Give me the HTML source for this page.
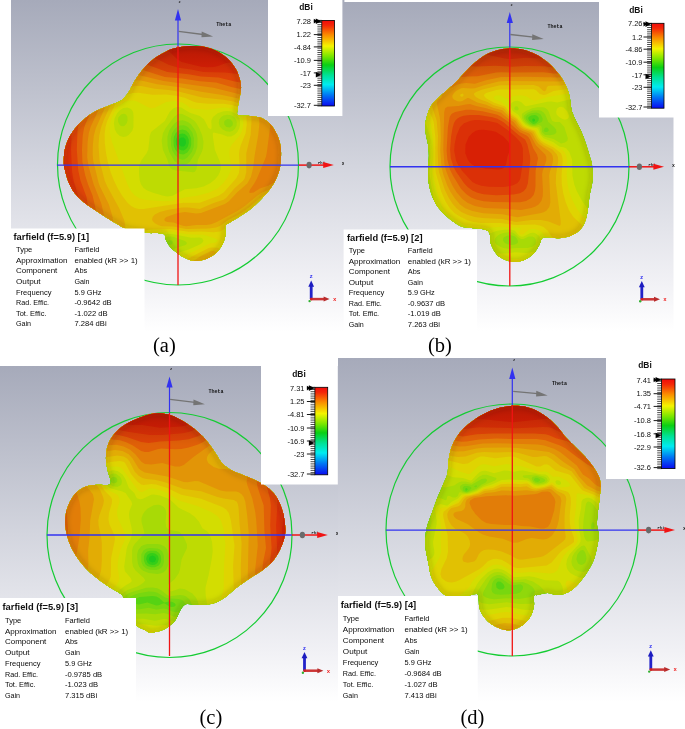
<!DOCTYPE html>
<html><head><meta charset="utf-8"><title>Farfield patterns</title>
<style>html,body{margin:0;padding:0;background:#fff}svg{display:block}text{font-family:"Liberation Sans",sans-serif}.cap{font-family:"Liberation Serif",serif;font-size:20.5px;fill:#000}.t{font-size:8.1px;fill:#0a0a0a}.tb{font-size:8.4px;font-weight:bold;fill:#111}.lg{font-size:7.5px;fill:#111;text-anchor:end}.lgt{font-size:8.4px;font-weight:bold;fill:#111;text-anchor:middle}.th{font-family:"Liberation Mono",monospace;font-size:5px;font-weight:bold;fill:#111}.ax2{font-family:"Liberation Mono",monospace;font-size:5.6px;font-weight:bold}.ax{font-family:"Liberation Mono",monospace;font-size:3.8px;font-weight:bold}</style></head><body>
<svg width="685" height="729" viewBox="0 0 685 729">
<defs>
<linearGradient id="bg" x1="0" y1="0" x2="0" y2="1"><stop offset="0" stop-color="#a6aaba"/><stop offset=".5" stop-color="#d3d5de"/><stop offset=".85" stop-color="#f1f1f5"/><stop offset="1" stop-color="#ffffff"/></linearGradient>
<linearGradient id="bar" x1="0" y1="0" x2="0" y2="1"><stop offset="0" stop-color="#f00a0a"/><stop offset=".06" stop-color="#f42808"/><stop offset=".17" stop-color="#fa8c00"/><stop offset=".30" stop-color="#f4f400"/><stop offset=".42" stop-color="#78e600"/><stop offset=".52" stop-color="#0ad014"/><stop offset=".64" stop-color="#00e296"/><stop offset=".75" stop-color="#00ecf0"/><stop offset=".87" stop-color="#0078f4"/><stop offset="1" stop-color="#0a0af0"/></linearGradient>
<filter id="blur3" x="-10%" y="-10%" width="120%" height="120%"><feGaussianBlur stdDeviation="2.5"/></filter>
<linearGradient id="topshade" x1="0" y1="0" x2="0" y2="1"><stop offset="0" stop-color="#400000" stop-opacity=".26"/><stop offset="1" stop-color="#500000" stop-opacity="0"/></linearGradient>
</defs>
<rect width="685" height="729" fill="#fff"/>
<rect x="11" y="0" width="333.4" height="332" fill="url(#bg)"/>
<g>
<circle cx="178" cy="164.5" r="120.5" fill="none" stroke="#14cc32" stroke-width="1.2"/>
<clipPath id="clipa"><path d="M190 46C194.1 45.8 197.8 45.9 202 46.6C206.2 47.3 211.3 48.5 215.5 50.4C219.7 52.3 223.7 55 227 58C230.3 61 233.3 64.8 235.5 68.5C237.7 72.2 239.1 76.5 240 80C240.9 83.5 241.2 85.8 241 89.3C240.8 92.8 239.6 97.2 239 100.7C238.4 104.2 237.5 107.8 237.4 110.2C237.3 112.6 236.2 114 238.3 115C240.4 116 245.9 115.5 249.7 116C253.5 116.5 257.5 116.4 261 117.8C264.5 119.2 267.9 121.5 270.6 124.4C273.3 127.3 275.5 131.3 277.2 135C278.9 138.7 280 142.5 280.6 146.3C281.2 150.1 281.1 153.8 281 157.6C280.9 161.4 280.6 165.2 279.7 169C278.8 172.8 277.1 176.8 275.3 180.4C273.5 184 271.4 187.3 268.7 190.8C266 194.3 262.4 198 259.2 201.2C256 204.4 253.2 207.1 249.7 209.8C246.2 212.5 241.8 215.2 238.3 217.4C234.8 219.6 231 221.6 228.8 223C226.7 224.4 226 223.8 225.4 225.9C224.8 228 225.9 232.2 225.4 235.4C224.9 238.6 223.8 241.9 222.2 244.9C220.5 247.9 218.2 251.1 215.5 253.4C212.8 255.8 209.5 257.7 206 259C202.5 260.3 198.2 261.2 194.7 261C191.2 260.8 188 259.3 185.2 258C182.3 256.7 180.1 255.3 177.6 253.4C175.1 251.5 171.9 249 170 246.8C168.1 244.6 167.1 242.1 166 240C164.9 237.9 166.2 235.2 163.5 234C160.8 232.8 154.4 233.5 150 233C145.6 232.5 141.2 231.8 137 231C132.8 230.2 127.5 229 124.5 228C121.5 227 121.6 226.6 118.8 225C116 223.4 111.2 220.7 107.4 218.3C103.6 215.9 99.8 213.2 96 210.7C92.2 208.1 88.2 205.8 84.7 203C81.2 200.2 77.7 197.1 75 193.6C72.3 190.1 70.2 186.1 68.5 182C66.8 177.9 65.5 172.4 64.7 169C63.9 165.6 63.8 164.6 63.8 161.4C63.8 158.2 63.9 153.8 64.7 150C65.5 146.2 66.8 142.3 68.5 138.7C70.2 135.1 72.5 131.5 75.2 128.2C77.9 124.9 81.2 121.6 84.7 118.7C88.2 115.8 91.9 113.2 96 111C100.1 108.8 105.2 107.2 109.3 105.5C113.4 103.8 117.7 102.6 120.7 100.7C123.7 98.8 125.5 96.5 127.4 94C129.3 91.5 130.4 88.5 132.1 85.5C133.8 82.5 135.6 79.2 137.8 76C140 72.8 142.6 69.6 145.4 66.6C148.2 63.6 151.4 60.5 154.9 58C158.4 55.5 162.5 53.1 166.3 51.4C170.1 49.7 173.7 48.5 177.6 47.6C181.5 46.7 185.9 46.2 190 46Z"/></clipPath>
<g clip-path="url(#clipa)">
<rect x="59.8" y="42" width="225.2" height="223" fill="#11c125"/>
<path fill="#1fc81e" fill-rule="evenodd" d="M59.8 42L286.1 42L286.1 265.8L59.8 265.8Z"/>
<path fill="#34ce18" fill-rule="evenodd" d="M59.8 42L286.1 42L286.1 265.8L59.8 265.8ZM179.8 138.2L178.4 140.8L179 144.5L181.1 146.5L183.6 146.5L184.8 145.6L186.1 143.2L185.6 139.5L183.6 137.5L181.1 137.5Z"/>
<path fill="#56d313" fill-rule="evenodd" d="M59.8 42L286.1 42L286.1 265.8L59.8 265.8ZM179.8 134.1L177.8 135.8L176.4 138.2L175.8 140.8L176.1 144.5L177.1 147L178.6 148.9L181.1 150.3L183.6 150.4L186.1 149L187.7 147L188.8 143.2L188.7 139.5L187.3 136.3L184.8 134.1L182.3 133.5Z"/>
<path fill="#78d70f" fill-rule="evenodd" d="M59.8 42L286.1 42L286.1 265.8L59.8 265.8ZM178.6 130.6L175.7 133.2L173.9 137L173.5 140.8L173.8 145.8L175.2 149.5L177.3 152.3L179.8 154.1L183.5 154.6L187.3 152.5L190.2 148.2L191.2 144.5L191.1 138.2L188.9 133.2L186.1 130.6L182.3 129.6Z"/>
<path fill="#90d80b" fill-rule="evenodd" d="M59.8 42L286.1 42L286.1 265.8L59.8 265.8ZM179.8 125.6L177.3 126.8L174.8 128.9L172 133.2L170.9 138.2L171.1 145.8L172.3 150.5L174.8 154.8L178.6 158.4L182.3 159.8L184.8 159.2L187.3 157.6L191.8 152L193.7 147L193.9 138.2L192.3 132.5L188.6 127.7L186.1 126.1L183.6 125.3Z"/>
<path fill="#a8da06" fill-rule="evenodd" d="M59.8 42L286.1 42L286.1 265.8L59.8 265.8ZM179.8 120.4L177.3 121.4L174.8 123.3L171.5 127L169.1 130.8L167.4 137L167.6 145.8L169.2 152L174.3 160.8L178.6 164L183.6 164.8L187.3 163.7L189.8 161.8L195.2 153.2L197.3 147L197.5 138.2L196.9 134.5L195.5 130.8L191.1 124.5L188.6 122.5L184.8 120.7L182.3 120.2ZM227.3 119.1L224.7 120.8L224.2 122L224.3 124.5L226.5 127L229.8 127.5L232.3 125.8L232.8 124.5L232.7 122L230.6 119.5ZM168.6 240.4L167 242L166.8 243.2L167.3 244.5L169.8 245.1L171.4 244.5L172.7 243.2L172.8 242L172.1 240.8L169.8 239.9Z"/>
<path fill="#bedb03" fill-rule="evenodd" d="M59.8 42L286.1 42L286.1 218.4L277.3 217.7L273.6 218.5L269.8 220.5L266.1 223.7L262.4 228.2L260.6 232L260.2 235.8L261.7 240.8L265.2 245.8L273.6 253.4L286.1 262.6L286.1 265.8L59.8 265.8ZM121.1 114.4L118.6 117.3L118 119.5L118.2 122L119.8 125.1L121 126L123.5 126.2L124.8 125.6L126.7 123.2L127.5 120.8L127.4 117L126 114.6L124.8 113.9L123.5 113.7ZM177.3 114.4L174.8 116.3L172.3 119.2L165.5 128.2L162.9 133.2L161.7 140.8L162.8 149.5L167.3 159.5L169.2 165.8L170.8 168.2L172.3 169.4L176.1 170.6L193.6 172.3L194.8 171.8L196.4 169.5L198 159.5L201.8 152L203 148.2L203.5 142L202.3 135.8L199.3 128.2L196.4 123.2L194.2 120.8L189.8 117.7L182.3 114L179.8 113.7ZM223.6 115.5L221.2 117L219.3 119.5L218.8 123.2L219.8 126.4L222.3 129.2L226.1 131.3L229.8 131.8L232.3 131.1L234.8 129L236.5 125.8L236.8 122L236 119.5L234.1 117L231.1 115.3L227.3 114.7ZM167.3 236.8L162.1 239.5L159.9 242L158.7 244.5L158.5 247L159.5 249.5L161.1 251.1L163 252L166.1 252.4L169.8 251.6L177.3 247.6L184.8 245.3L186.2 244.5L186.9 243.2L186.3 242L184.8 241.1L173.9 237L171.1 236.5Z"/>
<path fill="#d3dd01" fill-rule="evenodd" d="M59.8 42L286.1 42L286.1 208.2L274.8 207.5L271.1 208.2L267.3 210.1L247.5 228.2L244.8 232L243.7 235.8L244.8 240.8L248.2 245.8L255.3 253.2L268.6 265.8L59.8 265.8ZM123.5 108L119.8 110.2L117.1 113.2L114.7 118.2L113.9 123.2L114.8 129.4L116.9 133.2L119.8 136L123.5 137L126.1 136.5L128.6 135.1L132.3 130.8L133.4 127L133.5 115.8L133.1 112L131.1 109L127.3 107.4ZM173.6 108.2L169.6 112L164.8 121.1L151.1 132L149.8 135.8L148.3 149.5L146.5 153.2L141.1 160.8L139.6 164.5L139 168.2L139.1 174.5L139.8 180.8L141.1 184.6L143.6 188L147.3 190.5L152.3 192.6L162.3 195.6L167.3 196.5L172.6 195.8L184.8 189.2L196.1 188.2L203.6 186.4L210.1 183.2L214.9 179.5L218 175.8L219.8 172.3L220.6 169.5L220.8 165.8L219.8 161.4L214.8 149.8L212.9 137L212.8 133.2L213.6 132.5L214.8 132.7L222.2 134.5L227.3 136.5L231.1 136.4L234.8 134.5L237.3 131.9L239.3 128.2L240.1 124.5L240 120.8L239.3 118.2L236.1 114L231.1 111.6L227.3 111.1L223.6 111.3L217.7 113.2L213 117L211.3 120.8L211.7 127L211.1 129.5L208.5 128.1L204.1 119.5L199.8 115.9L189.8 112.7L181.1 107.4L177.3 107.1ZM166.1 234.3L161.4 235.8L156.6 238.2L153.7 240.8L151.3 244.5L150.5 248.2L151.1 252L153.6 255.7L157.3 258.1L162.3 259L168.6 257.8L178.6 252.4L188.5 249.5L199.8 244.5L202.3 242.7L203.4 240.8L202.3 238.6L199.8 237.6L191.1 237.7L173.6 234.2L169.8 233.9Z"/>
<path fill="#dfd401" fill-rule="evenodd" d="M59.8 42L286.1 42L286.1 201.4L272.3 201L267.3 202.2L252.3 215.7L234.8 227.9L230.4 233.2L227.5 238.2L227.5 239.5L229.3 242L242.3 253.1L255 265.8L161.7 265.8L169.8 263.4L182.3 256.3L193.6 251.6L209.8 243.5L216.1 242.4L217.8 240.8L217.3 239.5L214.8 238.2L203.6 234.7L187.3 234.3L174.8 231.9L169.8 231.6L158.6 233.1L151.1 235.7L145.8 239.5L142.8 244.5L142 248.2L142.1 252L144.4 258.2L146.4 260.8L149.8 263.5L153.6 265.1L156.6 265.8L59.8 265.8ZM128.6 100.6L124.8 101.7L121 103.9L116 109.4L112.6 115.8L110.7 120.8L109.8 125.8L109.7 130.8L110.3 135.8L112 142L127.5 184.5L130.6 190.8L134.8 195.5L139.8 198.5L146.1 200L163.6 201.3L171.1 200.9L184.8 197.4L197.3 195.7L208.6 192.7L217.3 188.7L223.2 183.2L227.9 177L230.5 170.8L230.8 165.8L229.3 153.2L229.8 148.2L232 144.5L239.5 135.8L241.6 132L242.8 128.2L243.4 123.2L242.9 118.2L241.3 114.5L239.1 112L233.6 108.9L226.1 107.6L221.1 107.7L207.3 109.8L192.3 108.6L189.8 107.7L185.9 104.5L182.3 102.5L174.8 101L166.1 102L154.8 107.8L151.1 108.2L148.6 107.5L137.3 101.4L133.6 100.5Z"/>
<path fill="#e1c103" fill-rule="evenodd" d="M59.8 42L286.1 42L286.1 195.6L269.8 196.6L266.1 197.4L248.6 212.9L239.8 218.4L231.1 222.8L223.6 229.5L219.8 231.5L213.6 232.2L201.1 231.4L188.6 231.8L169.8 229.1L149.8 229.6L142.3 231.2L138.6 233.7L135.9 237L133.8 242L132.9 247L133 252L134.1 257L136.2 262L138.9 265.8L59.8 265.8ZM132.3 93L127.3 94.4L122.3 97.1L118.5 100.2L115.1 104.5L107.3 120.8L105.5 127L104.6 134.5L104.8 143.2L106.1 153.6L108.1 163.2L111 173.2L114 180.8L117.7 188.2L122.3 195.9L127.3 202.5L131.1 205.9L134.8 208L138.6 209L143.6 208.9L183.6 202.8L199.8 202.8L218.6 195.7L223.6 192.4L236.3 178.2L238.9 173.2L239.6 167L239 154.5L239.3 150.8L240.6 145.8L245.6 133.2L246.8 124.5L246.5 117L245 113.2L243.2 110.8L238.6 107.2L232.3 105.1L223.6 103.8L208.6 103.8L197.3 102.8L193.6 101.8L184.8 97.8L176.1 95.7L166.1 94.5L152.3 94.8L138.6 92.7ZM208.2 248.2L211.1 247.4L214.8 247.4L221.1 248.5L226.1 250.3L234.1 255.8L244.2 265.8L176.9 265.8L188.6 258.2Z"/>
<path fill="#e2ac05" fill-rule="evenodd" d="M59.8 42L286.1 42L286.1 190.2L267.3 193.7L263.6 195.1L244.9 210.8L237.3 215.4L228.8 219.5L219.8 225.9L216.1 227.4L208.6 228.5L186.1 229.1L173.6 226.5L162.3 226.2L158.6 225.2L154.8 223.2L152.5 220.8L152.1 219.5L152.6 217L154.9 214.5L159.8 211.9L167.3 209.9L182.3 207.5L188.6 207.5L199.8 208.9L213.6 203L223.6 199.8L226.1 197.9L234.8 187.9L243.1 180.8L244.8 178.2L246.3 172L246.3 153.2L250.7 134.5L251.5 120.8L251.3 117L249.6 112L245.5 107L239.8 103.5L233.6 101.5L223.6 99.7L202.3 97.4L178.6 91.4L168.6 90L154.8 88.7L141.1 86.1L134.8 86.1L128.6 87.6L123.5 89.9L118.9 93.2L114.8 97.7L112.1 102L104 119.5L101.2 127L99.2 135.8L98.5 145.8L99.6 160.8L104.8 180.9L107.3 186.6L119.2 208.2L124.4 220.8L125.2 227L123.7 243.2L123.8 250.8L125.1 258.2L128 265.8L59.8 265.8ZM201.3 255.8L211.1 251.1L213.6 251.1L219.8 253.4L227 258.2L234.6 265.8L186.4 265.8Z"/>
<path fill="#e29507" fill-rule="evenodd" d="M59.8 42L286.1 42L286.1 184.2L262.3 192.2L257.2 195.8L244.8 205.9L237.8 210.8L216.7 222L211.1 224.2L206.1 225.1L196.1 225.1L186.1 226.2L182.9 225.8L173.6 222.4L167.3 221.9L164.8 220.9L164.4 219.5L164.9 218.2L166.4 217L177 213.2L184.8 212.1L196.1 213.4L201.1 213L224.8 203.9L228.6 201.5L237.3 192.3L247.3 183.4L250.9 177L253.1 168.2L254.6 155.8L258.3 134.5L259.4 123.2L258.8 118.2L256.4 112L251.6 105.8L246.1 101.6L238.6 98.6L222.3 95L199.8 91.4L179.8 87.3L157.3 84.2L141.1 80.6L133.6 80.5L127.3 81.9L122.3 84.1L117.3 87.7L113.2 92L109.1 98.2L95.8 128.2L93.8 135.8L92.8 145.8L92.7 154.5L93.2 160.8L98.5 182.6L99.8 186.2L108.9 204.5L112.6 217L114.2 228.2L115 252L116.2 259.5L118.1 265.8L59.8 265.8ZM210 257L213.6 257.1L216.2 258.2L219.9 260.8L225.1 265.8L195.8 265.8L204.8 259.1Z"/>
<path fill="#e27d08" fill-rule="evenodd" d="M59.8 42L286.1 42L286.1 176L268.6 185.4L259.8 188.5L253.6 192.4L249.8 193L249.2 192L250.1 189.5L254.4 183.2L257.1 178.2L265.9 157L266.9 152L270.1 127L269.3 119.5L265.9 112L259.8 104.5L253.3 99.5L243.6 95.2L213.6 87.8L163.6 81L138.6 75L131.1 75.1L123.5 77.1L118.5 79.7L113.5 83.6L109.4 88.2L106.2 93.2L90.6 127L88.8 133.2L87.6 142L87.2 157L88.5 166.3L93.7 184.5L101.2 203.2L103.9 214.5L105.2 225.8L106.3 252L108.7 265.8L59.8 265.8Z"/>
<path fill="#e06008" fill-rule="evenodd" d="M59.8 42L286.1 42L286.1 155.3L284.3 153.2L283.9 150.8L284.7 137L284.2 128.2L282.8 122L281 117L277.5 110.8L272.3 104.5L266.1 99.2L258.4 94.5L248.6 90.7L232.3 87.2L216.1 82.4L199.8 81.2L182.3 78.6L164.8 76.9L143.6 70.3L138.6 69.2L133.6 68.9L128.6 69.3L119.8 72L114.8 74.9L109.8 79.1L106 83.2L101.9 89.5L85.7 123.2L84 128.2L82.7 135.8L82 149.5L82.4 162L85.3 175.8L88.1 184.5L92.6 195.8L95.5 208.2L96.9 222L97.7 252L99.6 265.8L59.8 265.8Z"/>
<path fill="#de4308" fill-rule="evenodd" d="M59.8 42L286.1 42L286.1 100.8L279.2 95.8L271.1 91L263.6 87.7L254.8 85L234.8 81.4L218.6 77.5L201.1 76.5L188.6 74.3L167.3 72L146.1 64.3L139.8 62.7L132.3 62.2L124.8 63.2L117.3 65.8L111 69.6L103.1 77L96.2 87L80.5 119.5L78.6 124.5L77.5 130.8L76.8 149.5L78.3 170.8L80.5 180.8L86.5 197L88.4 208.2L89 220.8L89 249.5L90.5 265.8L59.8 265.8Z"/>
<path fill="#db3007" fill-rule="evenodd" d="M59.8 42L286.1 42L286 84.3L271.1 79.2L257.3 76.2L224.8 72.4L203.6 72L189.8 69.2L178.6 67.7L168.6 64.8L158.6 59.7L152.3 57.3L139.8 54.5L131.1 54.3L122.3 56L113.5 59.6L106 64.5L97.3 73.3L89.3 85.8L75.6 114.5L73 122L71.8 128.2L71 149.5L72.1 172L73.6 180.8L79.3 199.5L80.6 209.5L80.3 249.5L81.3 265.8L59.8 265.8Z"/>
<path fill="#d82005" fill-rule="evenodd" d="M59.8 42L286.1 42L286.1 68.2L262.3 64.6L232.3 62.5L226.1 63L217.3 66.3L213.6 67.1L207.3 67.3L201.1 66.7L181.7 62L177.6 59.5L169.8 51.9L162.3 47.9L153.5 45.5L143.6 44.4L132.3 44.9L121.1 47.4L111 51.8L101 58.8L96 63.6L91 69.5L83.1 82L71.3 107L68.5 114.5L66.4 122L65.1 133.2L64.1 160.8L65.8 178.2L70.7 199.5L72 209.5L72.2 220.7L71.4 250.8L72 265.8L59.8 265.8Z"/>
<path d="M190 46C194.1 45.8 197.8 45.9 202 46.6C206.2 47.3 211.3 48.5 215.5 50.4C219.7 52.3 223.7 55 227 58C230.3 61 233.3 64.8 235.5 68.5C237.7 72.2 239.1 76.5 240 80C240.9 83.5 241.2 85.8 241 89.3C240.8 92.8 239.6 97.2 239 100.7C238.4 104.2 237.5 107.8 237.4 110.2C237.3 112.6 236.2 114 238.3 115C240.4 116 245.9 115.5 249.7 116C253.5 116.5 257.5 116.4 261 117.8C264.5 119.2 267.9 121.5 270.6 124.4C273.3 127.3 275.5 131.3 277.2 135C278.9 138.7 280 142.5 280.6 146.3C281.2 150.1 281.1 153.8 281 157.6C280.9 161.4 280.6 165.2 279.7 169C278.8 172.8 277.1 176.8 275.3 180.4C273.5 184 271.4 187.3 268.7 190.8C266 194.3 262.4 198 259.2 201.2C256 204.4 253.2 207.1 249.7 209.8C246.2 212.5 241.8 215.2 238.3 217.4C234.8 219.6 231 221.6 228.8 223C226.7 224.4 226 223.8 225.4 225.9C224.8 228 225.9 232.2 225.4 235.4C224.9 238.6 223.8 241.9 222.2 244.9C220.5 247.9 218.2 251.1 215.5 253.4C212.8 255.8 209.5 257.7 206 259C202.5 260.3 198.2 261.2 194.7 261C191.2 260.8 188 259.3 185.2 258C182.3 256.7 180.1 255.3 177.6 253.4C175.1 251.5 171.9 249 170 246.8C168.1 244.6 167.1 242.1 166 240C164.9 237.9 166.2 235.2 163.5 234C160.8 232.8 154.4 233.5 150 233C145.6 232.5 141.2 231.8 137 231C132.8 230.2 127.5 229 124.5 228C121.5 227 121.6 226.6 118.8 225C116 223.4 111.2 220.7 107.4 218.3C103.6 215.9 99.8 213.2 96 210.7C92.2 208.1 88.2 205.8 84.7 203C81.2 200.2 77.7 197.1 75 193.6C72.3 190.1 70.2 186.1 68.5 182C66.8 177.9 65.5 172.4 64.7 169C63.9 165.6 63.8 164.6 63.8 161.4C63.8 158.2 63.9 153.8 64.7 150C65.5 146.2 66.8 142.3 68.5 138.7C70.2 135.1 72.5 131.5 75.2 128.2C77.9 124.9 81.2 121.6 84.7 118.7C88.2 115.8 91.9 113.2 96 111C100.1 108.8 105.2 107.2 109.3 105.5C113.4 103.8 117.7 102.6 120.7 100.7C123.7 98.8 125.5 96.5 127.4 94C129.3 91.5 130.4 88.5 132.1 85.5C133.8 82.5 135.6 79.2 137.8 76C140 72.8 142.6 69.6 145.4 66.6C148.2 63.6 151.4 60.5 154.9 58C158.4 55.5 162.5 53.1 166.3 51.4C170.1 49.7 173.7 48.5 177.6 47.6C181.5 46.7 185.9 46.2 190 46Z" fill="none" stroke="#3a2000" stroke-opacity=".14" stroke-width="6" filter="url(#blur3)"/>
<rect x="59.8" y="42" width="225.2" height="35.7" fill="url(#topshade)"/>
</g>
<path d="M178 20V46" stroke="#3232f0" stroke-width="1.2" fill="none"/>
<path d="M178 9L174.9 20.5L181.1 20.5Z" fill="#3232f0"/>
<path d="M178 46V285" stroke="#f01414" stroke-width="1.3" fill="none"/>
<path d="M57 165.1H298.8" stroke="#3232f0" stroke-width="1.4" fill="none"/>
<path d="M298.8 165.1H324.8" stroke="#f01414" stroke-width="1.5" fill="none"/>
<ellipse cx="309.1" cy="165.1" rx="2.6" ry="3.3" fill="#6a6a6a"/>
<text class="ax" x="318.1" y="163.8" fill="#222">Phi</text>
<path d="M333.8 165.1L323.2 162.1L323.2 168.1Z" fill="#f01414"/>
<text class="ax" x="341.8" y="164.9" fill="#222" style="font-size:4.8px">x</text>
<text class="ax" x="178.6" y="2.5" fill="#222">z</text>
<path d="M178.6 31.3L203.1 34.5" stroke="#747474" stroke-width="1.3" fill="none"/>
<path d="M213.1 36.4L201.7 31.5L201.5 37.3Z" fill="#747474"/>
<text class="th" x="216.3" y="25.6">Theta</text>
<path d="M311.2 299.1V285.4" stroke="#2222c8" stroke-width="2.8" fill="none"/>
<path d="M311.2 280.4L308.3 286.7L314.1 286.7Z" fill="#1c1cc0"/>
<path d="M310.7 299.1H324.6" stroke="#cc3434" stroke-width="2.5" fill="none"/>
<path d="M329.6 299.1L323.6 296.6L323.6 301.6Z" fill="#b82c2c"/>
<circle cx="309.6" cy="301.1" r="1.2" fill="#30b030"/>
<circle cx="311.2" cy="299.1" r="1.3" fill="#d02020"/>
<text class="ax2" x="309.5" y="278.2" fill="#3030f0">z</text>
<text class="ax2" x="332.9" y="300.9" fill="#f02020">x</text>
</g>
<rect x="268" y="-1" width="74.4" height="117" fill="#fff"/>
<text class="lgt" x="306" y="9.6">dBi</text>
<rect x="321.8" y="20.4" width="12.7" height="85.6" fill="url(#bar)" stroke="#000" stroke-width=".8"/>
<path d="M317.4 20.4H321.8M317.4 22.5H321.8M317.4 24.7H321.8M317.4 26.8H321.8M317.4 29H321.8M317.4 31.1H321.8M317.4 33.2H321.8M317.4 35.4H321.8M317.4 37.5H321.8M317.4 39.7H321.8M317.4 41.8H321.8M317.4 43.9H321.8M317.4 46.1H321.8M317.4 48.2H321.8M317.4 50.4H321.8M317.4 52.5H321.8M317.4 54.6H321.8M317.4 56.8H321.8M317.4 58.9H321.8M317.4 61.1H321.8M317.4 63.2H321.8M317.4 65.3H321.8M317.4 67.5H321.8M317.4 69.6H321.8M317.4 71.8H321.8M317.4 73.9H321.8M317.4 76H321.8M317.4 78.2H321.8M317.4 80.3H321.8M317.4 82.5H321.8M317.4 84.6H321.8M317.4 86.7H321.8M317.4 88.9H321.8M317.4 91H321.8M317.4 93.2H321.8M317.4 95.3H321.8M317.4 97.4H321.8M317.4 99.6H321.8M317.4 101.7H321.8M317.4 103.9H321.8M317.4 106H321.8" stroke="#000" stroke-width=".7" fill="none"/>
<text class="lg" x="311" y="23.7">7.28</text>
<text class="lg" x="311" y="37.3">1.22</text>
<text class="lg" x="311" y="49.6">-4.84</text>
<text class="lg" x="311" y="63.1">-10.9</text>
<text class="lg" x="311" y="75.6">-17</text>
<text class="lg" x="311" y="88">-23</text>
<text class="lg" x="311" y="108">-32.7</text>
<path d="M313.8 21H321.8M313.8 34.6H321.8M313.8 46.9H321.8M313.8 60.4H321.8M313.8 72.9H321.8M313.8 85.3H321.8M313.8 105.3H321.8" stroke="#000" stroke-width=".9" fill="none"/>
<path d="M321.3 21.2L315.8 18.4L315.8 24Z" fill="#000"/>
<path d="M321.3 74.8L315.8 72L315.8 77.6Z" fill="#000"/>
<path d="M317.8 21.2L313.8 18.8L313.8 23.6Z" fill="#000"/>
<rect x="11" y="228.5" width="133.5" height="103.5" fill="#fff"/>
<text class="tb" x="13.5" y="240" textLength="75.5" lengthAdjust="spacingAndGlyphs">farfield (f=5.9) [1]</text>
<text class="t" x="16" y="252.2" textLength="16.3" lengthAdjust="spacingAndGlyphs">Type</text>
<text class="t" x="74.5" y="252.2" textLength="24.9" lengthAdjust="spacingAndGlyphs">Farfield</text>
<text class="t" x="16" y="262.8" textLength="51.5" lengthAdjust="spacingAndGlyphs">Approximation</text>
<text class="t" x="74.5" y="262.8" textLength="63.2" lengthAdjust="spacingAndGlyphs">enabled (kR &gt;&gt; 1)</text>
<text class="t" x="16" y="273.3" textLength="41.3" lengthAdjust="spacingAndGlyphs">Component</text>
<text class="t" x="74.5" y="273.3" textLength="12.7" lengthAdjust="spacingAndGlyphs">Abs</text>
<text class="t" x="16" y="283.9" textLength="24.5" lengthAdjust="spacingAndGlyphs">Output</text>
<text class="t" x="74.5" y="283.9" textLength="15.1" lengthAdjust="spacingAndGlyphs">Gain</text>
<text class="t" x="16" y="294.5" textLength="35.6" lengthAdjust="spacingAndGlyphs">Frequency</text>
<text class="t" x="74.5" y="294.5" textLength="27" lengthAdjust="spacingAndGlyphs">5.9 GHz</text>
<text class="t" x="16" y="305.1" textLength="33.1" lengthAdjust="spacingAndGlyphs">Rad. Effic.</text>
<text class="t" x="74.5" y="305.1" textLength="37.2" lengthAdjust="spacingAndGlyphs">-0.9642 dB</text>
<text class="t" x="16" y="315.6" textLength="30.5" lengthAdjust="spacingAndGlyphs">Tot. Effic.</text>
<text class="t" x="74.5" y="315.6" textLength="33.1" lengthAdjust="spacingAndGlyphs">-1.022 dB</text>
<text class="t" x="16" y="326.2" textLength="15.1" lengthAdjust="spacingAndGlyphs">Gain</text>
<text class="t" x="74.5" y="326.2" textLength="32.1" lengthAdjust="spacingAndGlyphs">7.284 dBi</text>
<rect x="344" y="2" width="329.5" height="329" fill="url(#bg)"/>
<g>
<circle cx="509.5" cy="166.5" r="119.5" fill="none" stroke="#14cc32" stroke-width="1.2"/>
<clipPath id="clipb"><path d="M509 48.5C513.3 48.4 517.9 48.5 522.3 49.5C526.7 50.5 531.4 52.2 535.5 54.2C539.6 56.2 543.5 58.9 547 61.8C550.5 64.6 553.6 68 556.4 71.3C559.2 74.6 562 78.1 564 81.7C566 85.3 567.6 89.5 568.7 93C569.8 96.5 570.1 99.7 570.6 102.6C571.1 105.5 570.8 107.3 571.6 110.2C572.4 113.1 573.8 116.2 575.4 119.7C577 123.2 579.3 127 581 131C582.7 134.9 584.4 139.3 585.8 143.4C587.2 147.5 588.6 152.1 589.6 155.7C590.6 159.3 591.5 160.9 592 165C592.5 169.1 592.9 175.3 592.5 180.4C592.1 185.5 590.4 190.4 589.6 195.5C588.8 200.6 588.5 206.3 587.7 210.7C586.9 215.1 586.3 218.7 584.9 222C583.5 225.3 581.7 228.2 579.2 230.6C576.7 233 573.2 235 569.7 236.3C566.2 237.6 561.8 238 558.3 238.2C554.8 238.4 551.5 237.3 548.8 237.3C546.1 237.3 543.8 236.9 542.2 238.2C540.6 239.5 540.7 242.4 539.3 244.9C537.9 247.4 536.1 250.9 533.6 253.4C531.1 255.9 527.7 258.6 524.2 260C520.7 261.4 516.6 262.3 512.8 262C509 261.7 504.3 259.6 501.4 258C498.5 256.4 497.1 255 495.3 252.5C493.5 250 491.6 246.2 490.6 243C489.7 239.8 490.6 235.7 489.6 233.5C488.7 231.3 488.2 230.6 484.9 229.7C481.6 228.8 473.8 228.4 469.7 227.8C465.6 227.2 463.7 227.5 460.2 225.9C456.7 224.3 452.3 221.2 448.8 218.3C445.3 215.5 442 212.3 439.3 208.8C436.6 205.3 434.4 201.5 432.7 197.4C431 193.3 429.7 188.7 428.9 184C428.1 179.3 428 173.7 428 169C428 164.3 428.9 159.8 428.9 155.7C428.9 151.6 428.5 147.9 428 144.4C427.5 140.9 426.5 138.1 426 134.9C425.5 131.7 424.9 128.6 425.1 125.4C425.3 122.2 426.1 119.1 427 115.9C427.9 112.7 429.1 109.2 430.8 106.4C432.5 103.6 434.7 101.5 437.4 98.8C440.1 96.1 443.7 93.1 446.9 90.3C450.1 87.5 453.5 84.5 456.4 81.7C459.2 78.9 461.1 76.2 464 73.2C466.9 70.2 470 66.7 473.5 63.7C477 60.7 481.1 57.4 484.9 55.2C488.7 53 492.3 51.5 496.3 50.4C500.3 49.3 504.7 48.6 509 48.5Z"/></clipPath>
<g clip-path="url(#clipb)">
<rect x="421.1" y="44.5" width="175.4" height="221.5" fill="#11c125"/>
<path fill="#1fc81e" fill-rule="evenodd" d="M421.1 44.5L597.4 44.5L597.4 267L421.1 267Z"/>
<path fill="#34ce18" fill-rule="evenodd" d="M421.1 44.5L597.4 44.5L597.4 267L421.1 267Z"/>
<path fill="#56d313" fill-rule="evenodd" d="M421.1 44.5L597.4 44.5L597.4 267L421.1 267ZM532.4 119.1L532.4 120.9L533.6 121.7L534.9 121L534.9 119.3L533.6 118.6Z"/>
<path fill="#78d70f" fill-rule="evenodd" d="M421.1 44.5L597.4 44.5L597.4 267L425.9 267L424.1 255.8L421.1 244.2ZM531.1 115.5L528.7 117L528.2 118.2L529.1 120.8L532.4 123.6L533.6 124L536 123.2L538.5 120.8L538.8 118.2L538.2 117L536.8 115.8L534.9 115.1Z"/>
<path fill="#90d80b" fill-rule="evenodd" d="M421.1 44.5L597.4 44.5L597.4 267L437 267L435.6 258.2L433.2 249.5L421.1 220.5ZM531.1 113.2L527.4 114.9L525.5 117L526 119.5L529.4 123.2L532.4 124.8L534.9 125L541.6 122L542.5 120.8L542.6 118.2L540.6 114.5L538.6 113.2L536.1 112.6ZM544.9 128L543.7 130.8L544.9 131.9L547.2 132L548.7 130.8L548.7 129.5L547.4 127.8L546.1 127.4Z"/>
<path fill="#a8da06" fill-rule="evenodd" d="M421.1 44.5L597.4 44.5L597.4 267L449.1 267L448 257L445.7 249.5L441.8 242L428.6 221.2L425.3 213.2L423.5 205.8L422.3 173.2L424 159.5L424.1 149.5L423.5 140.8L421.1 134.5ZM507.4 235.7L504.3 237L503.2 238.2L503.1 240.8L504.9 242.9L507.4 244.2L511.1 244.9L514.9 244.5L517.4 243.2L518 242L517.9 240.8L516.6 238.2L514.9 236.4L511.1 235.2ZM532.4 110.6L527.4 112.7L523.8 115.8L523.7 118.2L526.1 122L529.2 124.5L532.4 125.8L534.9 126L538.6 125.1L541 125.8L541.7 127L542 132L544.9 134.7L549.9 135.3L554 134.5L555.9 133.2L556.4 132L556.1 129.5L554.1 127L548.3 122L545.2 114.5L543.6 112.4L541.1 110.8L538.6 110.2Z"/>
<path fill="#bedb03" fill-rule="evenodd" d="M421.1 44.5L597.4 44.5L597.3 118.1L591.1 116.7L586 117L583.3 119.5L582.3 122L581.8 125.8L583.3 130.8L589.8 143.2L594.6 158.2L595.6 167L597.4 171.3L597.4 267L462.6 267L463.3 255.8L462.6 252L461.2 248.2L455.7 240.8L441.1 226.2L436.1 220.2L431.2 212L428.8 204.5L427.3 184.5L425.8 173.2L427.4 159.5L427.4 140.8L425.6 134.5L421.1 125.9ZM503.6 233L499.8 234.3L497.5 235.8L495.3 238.2L494.6 240.8L495.4 243.2L496.5 244.5L499.9 246.5L503.6 248L508.6 248.7L516.1 248L527.4 248L532.4 246.7L534.9 244.8L535.8 243.2L535.7 239.5L534.9 238.1L532.4 236.5L528.6 236.4L523.6 239L521.1 239.1L518.6 237.5L514.9 233.9L512.4 232.6L508.6 232.3ZM514.9 106.8L514.3 108.2L514.9 109.9L517.4 110.5L518.6 109.5L518.6 108.3L517.4 106.6L516.1 106.2ZM532.4 108.2L526.1 110.9L522.6 113.2L521.8 114.5L522.1 118.2L523.4 120.8L525.6 123.2L531.1 126.4L539.3 127L541.1 133.4L542.4 135L544.9 136.8L553.6 139L561.1 143.4L564.9 142.6L567.4 140.8L567.8 138.2L564.3 127L559.8 122L554.9 121.9L552.4 120.9L550.9 118.2L548.9 112L547.3 109.5L544.9 107.8L542.4 107.2L537.4 107.3Z"/>
<path fill="#d3dd01" fill-rule="evenodd" d="M421.1 44.5L597.4 44.5L597.4 102.4L583.6 100L572.4 99.4L567.4 100L557.4 102.6L551.1 101.6L547.4 101.7L526.1 106.2L524.9 105.7L521.1 102L517.4 100.8L514.9 101.1L512.4 102.3L511.1 103.5L510.5 105.8L512.6 110.8L518.6 114.9L522.4 121.4L525.2 124.5L529.9 126.9L537.4 128.3L538.4 129.5L540.2 134.5L543.6 138.2L553 142L559.9 146.7L563.6 147.2L566.1 148.2L569.3 152L572.1 159.5L572.5 175.8L574.3 184.5L576.6 190.8L582.4 201.5L587.3 208.2L591.1 211.2L597.4 213.8L597.4 267L477.8 267L480.6 262L483.6 258.5L487.4 255.8L491.1 254.4L497.4 253.3L506.1 253.5L514.9 252.3L526.1 253L532.4 252.1L536.1 250.9L539.5 248.2L540.9 245.8L541.5 243.2L541 239.5L538.9 235.8L534.9 233.1L532.4 232.8L529.9 233.2L523.6 236.5L521.1 236.7L518.6 235.2L514.9 230.8L509.9 229.6L502.4 229.9L497.4 230.8L479.9 236.7L476.1 237L471.1 236.2L462.4 232.2L449.9 223.8L443.6 218.5L438.4 212L435.7 207L434.5 203.2L429.2 173.2L430.3 158.2L430.4 142L429.9 137L427.1 127L421.1 115.3ZM559.2 107L561.1 106.7L563.6 107.5L567.4 111.5L569 115.8L568.6 117.7L567.4 119.1L564.9 119.7L562.4 118.9L559.1 117L556.6 114.5L556.1 112L556.7 109.5L557.4 108.2Z"/>
<path fill="#dfd401" fill-rule="evenodd" d="M421.1 44.5L597.4 44.5L597.4 93.6L582.3 92.8L568.6 93.5L548.6 96.7L534.9 100.7L531.4 99.5L526.1 96.3L521.1 95.3L514.9 95.7L506.1 99.1L502.4 96.3L499.9 95.3L496.1 95.4L493.7 97L493.9 98.2L494.9 99.6L501.1 101.8L504.1 104.5L507.4 106.3L511.4 112L517.4 116.3L522.2 123.2L524.9 125.7L528.6 127.5L536.1 129.8L539.9 136.7L542.4 139.4L552.4 144.3L558.6 148.4L562 149.5L564.6 152L566.2 155.8L567 159.5L566.7 175.8L567.6 184.5L569.3 192L572.4 200.2L577.3 209.5L582.1 215.8L587.4 219.8L597.4 225.9L597.4 267L494.9 267L501.1 262.8L509.9 259.9L516.1 259L526.1 259.3L532.4 258.9L537.4 257.8L541.1 256L545.3 252L547.3 247L546.9 240.8L544.8 235.8L542.4 232.7L539.9 230.8L534.9 229L531.1 229.1L528.6 229.8L523.6 234.1L521.1 234.8L519.3 233.2L519.1 232L520.7 229.5L520.6 228.2L519.9 227.8L501.1 226.7L479.9 228.5L471.1 227.5L464.9 225.2L453.6 218.7L448.6 214.9L444.9 210.8L442.4 206.9L440.3 202L436.1 188.5L432.5 173.2L433 140.8L431.1 125.3L429.5 120.8L421.1 105.3Z"/>
<path fill="#e1c103" fill-rule="evenodd" d="M421.1 44.5L597.4 44.5L597.4 86.6L583.6 87L568.6 88.7L553.6 91.1L546.1 94.4L543.6 94.9L539.9 94L536.1 90.3L533.6 89.3L499.9 89.5L496.1 90.1L486.1 93L484.2 94.5L484 95.8L486 98.2L493.6 102.6L504.9 106.5L510.3 113.2L517.4 118.4L522.9 125.8L526.1 127.7L534.8 130.8L538.6 137.7L541.1 140.7L544.9 143.2L553.6 147.5L560.9 153.2L562.3 157L562.7 160.8L561.5 175.8L561.8 184.5L563.2 193.2L565.6 202L569.2 210.8L573.4 217L581.3 224.5L591.1 235.5L597.4 240.9L597.4 267L539.8 267L546.1 264.3L550.6 260.8L554.1 255.8L555.5 250.8L555.1 244.5L552.8 238.2L547.8 230.8L543.6 227.1L539.9 225.4L534.9 224.6L516.1 225L501.1 223L481.1 222.9L473.6 222L467.4 220.2L459.9 216.6L454.8 213.2L449.8 208.2L445.8 202L441.4 192L435.9 173.2L435.3 167L435.4 138.2L433.7 122L431.9 117L421.1 93.2Z"/>
<path fill="#e2ac05" fill-rule="evenodd" d="M421.1 44.5L597.4 44.5L597.3 80.1L583.6 81.7L561.1 85.6L548.6 85.8L546.9 87L546.1 90L544.9 91.2L543.1 90.8L538.6 86.6L533.6 85.1L499.9 85.2L482.4 89.6L476 92L474.2 93.2L473.9 94.5L475.8 97L480.3 99.5L487.4 102L493.6 105.3L503.6 108L509.2 114.5L516.1 119.1L519.9 124.5L522.3 127L524.9 128.5L531.5 130.8L533.6 132L537.4 138.9L539.9 142.1L543.6 144.9L552.5 149.5L556.9 154.5L557.9 157L558.2 160.8L556.1 174.5L555.8 183.2L560.7 220.8L560.7 224.5L559.9 225.7L558.6 225.6L548.6 221.5L541.1 219.9L531.1 219.9L516.1 222.1L502.3 219.1L482.4 218L474.9 217L467.4 214.8L461.3 212L456.6 208.2L452.4 203.4L448.6 197.5L444.9 190.1L439 172L438.3 167L437.6 149.5L438 135.8L436.7 120.8L431.5 104.5L429.1 94.5L426.7 89.5L421.1 80.9ZM462.4 93.5L460.3 94.5L460.1 95.8L461.1 96.7L462.4 96.7L463.5 95.8L463.6 94.5ZM575.9 262L579.9 260.9L583.6 261.4L588.6 263.1L596.6 267L569.2 267Z"/>
<path fill="#e29507" fill-rule="evenodd" d="M421.1 44.5L597.4 44.5L597.4 73.9L559.9 81.5L507.4 80.9L498.6 81.4L484.9 84.9L474.9 88.2L471.1 88.6L463.6 87.9L461.1 88.3L456.3 90.8L453.8 93.2L452.3 95.7L452.7 98.2L453.8 99.5L457.4 101.3L459.9 101.6L462.4 101.1L467.4 98L468.6 98.1L477.3 102.4L486.1 104.7L493.6 107.9L502.4 110.2L508.6 116.3L515.5 120.8L518.8 125.8L521.1 128L523.6 129.6L530.3 132L532.1 133.2L536.1 140.8L538.6 144.1L548.4 150.8L551.2 153.2L552.6 155.8L553.1 159.5L552.6 163.2L549.8 172L549.2 175.8L550.4 202L549.3 207L546.4 210.8L543.6 212.2L539.9 213.2L517.4 217.2L502.4 214.3L483.3 213.2L472.4 211L465.2 208.2L460.1 204.5L454.9 198.5L450.6 192L447.4 185.8L443.3 174.5L441.5 167L440.3 150.8L440.8 137L440.4 123.2L439.7 117L436.8 103.2L437.4 100.6L438.6 99.3L440.8 98.2L441.7 97L441.8 95.8L440.3 93.2L431.1 82.8L421.1 68.7Z"/>
<path fill="#e27d08" fill-rule="evenodd" d="M421.1 44.5L597.4 44.5L597.4 67.6L559.9 77.5L524.9 76.8L501.1 77L486.1 80.2L474.9 83.8L466.1 83.1L461.1 83.5L457.4 84.6L452.4 87.3L449.9 87.8L447.4 87.1L445 85.8L439.9 81.2L434.2 74.5L427.2 64.5L421.1 55.1ZM465.5 104.5L469.9 104.1L476.1 106L486.1 108.2L501.1 112.8L507.4 118L513.7 122L517.5 127L520 129.5L522.4 131L528.5 133.2L530.1 134.5L536.1 145.5L545.2 154.5L546.3 157L546.3 160.8L542.7 170.8L542.1 174.5L542.9 189.5L542.8 195.8L541.5 200.8L538.6 204.6L534.9 206.7L531.1 208L521.1 210L504.9 208.7L484.9 208L474.9 205.9L467.4 202.8L462.4 199L456.4 192L452.4 185.5L448.6 177.3L446.1 170.8L444.5 164.5L443.3 149.5L444.2 112L445.2 108.2L447.4 106.7L458.6 106.1Z"/>
<path fill="#e06008" fill-rule="evenodd" d="M424.1 44.5L597.4 44.5L597.4 61L583.6 65L564 72L557.4 73.6L553.6 73.6L543.6 72.3L512.4 72.5L501.1 72.2L496.1 72.6L477.4 76.3L467.4 76.4L453.6 77.8L448.6 76.4L442.4 70.7L434.9 60.8ZM455.3 112L466.1 109.7L471.1 109.7L482.4 111.2L497.3 114.8L501.1 116.7L508.5 122L519.9 132.3L526.1 135.2L528.3 137L529.9 139.6L533.2 148.2L537 154.5L538 158.2L535.6 170.8L535.5 185.8L535 190.8L533.6 194.9L530.9 198.2L526.1 201L519.9 202.3L493.6 202.1L483.6 201.2L476.1 199.6L471.1 197.4L466.1 194L461.1 188.9L453 175.8L449.9 169.5L447.4 159.8L446.6 150.8L447.9 127L449.7 117L451.1 114.6L452.6 113.2Z"/>
<path fill="#de4308" fill-rule="evenodd" d="M435.5 44.5L597.4 44.5L597.4 53.9L583.6 58.3L562.4 66.6L556.1 68L544.9 66.2L524.9 66.1L512.4 66.7L494.9 65.8L477.4 66.5L461.1 65.7L454.9 64.4L449.9 61.4L443.6 55.2ZM463.7 115.8L469.9 114.9L478.6 115L492.4 117.2L497.4 118.7L503.6 122.3L518.6 135L525 139.5L527.4 144.5L530 155.8L530.3 159.5L527.9 183.2L526.2 188.2L523.6 191.2L519.9 193.3L513.6 194.6L496.1 195.2L483.6 194.2L477.4 192.7L472.4 190.4L467.6 187L464.1 183.2L456.3 172L453.6 167L450.8 158.2L450.1 149.5L451.1 136.4L452.5 128.2L453.9 123.2L455.2 120.8L457.4 118.5L459.9 117Z"/>
<path fill="#db3007" fill-rule="evenodd" d="M451.2 44.5L597.4 44.5L597.4 46.2L567.4 57L559.8 59L554.9 59.3L526.1 57.8L511.1 59.1L504.9 58.4L484.9 54.3L466.1 52.1L458.6 49.5ZM470.7 120.8L474.9 120L478.6 120.1L488.6 121.1L497.4 123L506.8 129.5L515.5 137L520.1 142L521.6 144.5L522.8 148.2L523 160.8L520.4 178.2L519.3 180.8L517.2 183.2L512.4 185.6L503.6 187L488.6 186.8L481.6 185.8L476.1 184.1L472.4 182L462.4 171.2L458.6 165.7L456.1 160.8L454.2 150.8L454.6 144.5L456.4 135.8L460.1 127L464 123.2Z"/>
<path fill="#d82005" fill-rule="evenodd" d="M491.9 44.5L492.4 44.5L577.5 44.5L563.6 48.8L552.4 50L526.1 48.3L509.9 49.1L504.9 48.2ZM475.8 130.8L478.6 130L483.6 129.7L491.1 130.7L496.1 132.1L503.6 136.8L508.4 142L510.1 145.8L510 149.5L507.4 157L506.1 164.5L503.6 167.9L501.1 169.1L498.6 169.5L484.9 168.5L474.9 166.2L472 164.5L469.3 162L467.7 159.5L465.3 153.2L465.5 144.5L468.7 137L472.4 133.1Z"/>
<path d="M509 48.5C513.3 48.4 517.9 48.5 522.3 49.5C526.7 50.5 531.4 52.2 535.5 54.2C539.6 56.2 543.5 58.9 547 61.8C550.5 64.6 553.6 68 556.4 71.3C559.2 74.6 562 78.1 564 81.7C566 85.3 567.6 89.5 568.7 93C569.8 96.5 570.1 99.7 570.6 102.6C571.1 105.5 570.8 107.3 571.6 110.2C572.4 113.1 573.8 116.2 575.4 119.7C577 123.2 579.3 127 581 131C582.7 134.9 584.4 139.3 585.8 143.4C587.2 147.5 588.6 152.1 589.6 155.7C590.6 159.3 591.5 160.9 592 165C592.5 169.1 592.9 175.3 592.5 180.4C592.1 185.5 590.4 190.4 589.6 195.5C588.8 200.6 588.5 206.3 587.7 210.7C586.9 215.1 586.3 218.7 584.9 222C583.5 225.3 581.7 228.2 579.2 230.6C576.7 233 573.2 235 569.7 236.3C566.2 237.6 561.8 238 558.3 238.2C554.8 238.4 551.5 237.3 548.8 237.3C546.1 237.3 543.8 236.9 542.2 238.2C540.6 239.5 540.7 242.4 539.3 244.9C537.9 247.4 536.1 250.9 533.6 253.4C531.1 255.9 527.7 258.6 524.2 260C520.7 261.4 516.6 262.3 512.8 262C509 261.7 504.3 259.6 501.4 258C498.5 256.4 497.1 255 495.3 252.5C493.5 250 491.6 246.2 490.6 243C489.7 239.8 490.6 235.7 489.6 233.5C488.7 231.3 488.2 230.6 484.9 229.7C481.6 228.8 473.8 228.4 469.7 227.8C465.6 227.2 463.7 227.5 460.2 225.9C456.7 224.3 452.3 221.2 448.8 218.3C445.3 215.5 442 212.3 439.3 208.8C436.6 205.3 434.4 201.5 432.7 197.4C431 193.3 429.7 188.7 428.9 184C428.1 179.3 428 173.7 428 169C428 164.3 428.9 159.8 428.9 155.7C428.9 151.6 428.5 147.9 428 144.4C427.5 140.9 426.5 138.1 426 134.9C425.5 131.7 424.9 128.6 425.1 125.4C425.3 122.2 426.1 119.1 427 115.9C427.9 112.7 429.1 109.2 430.8 106.4C432.5 103.6 434.7 101.5 437.4 98.8C440.1 96.1 443.7 93.1 446.9 90.3C450.1 87.5 453.5 84.5 456.4 81.7C459.2 78.9 461.1 76.2 464 73.2C466.9 70.2 470 66.7 473.5 63.7C477 60.7 481.1 57.4 484.9 55.2C488.7 53 492.3 51.5 496.3 50.4C500.3 49.3 504.7 48.6 509 48.5Z" fill="none" stroke="#3a2000" stroke-opacity=".14" stroke-width="6" filter="url(#blur3)"/>
<rect x="421.1" y="44.5" width="175.4" height="35.4" fill="url(#topshade)"/>
</g>
<path d="M509.8 22.5V47.5" stroke="#3232f0" stroke-width="1.2" fill="none"/>
<path d="M509.8 12L506.7 23L512.9 23Z" fill="#3232f0"/>
<path d="M509.8 47.5V286" stroke="#f01414" stroke-width="1.3" fill="none"/>
<path d="M390 166.8H629" stroke="#3232f0" stroke-width="1.4" fill="none"/>
<path d="M629 166.8H655" stroke="#f01414" stroke-width="1.5" fill="none"/>
<ellipse cx="639.4" cy="166.8" rx="2.6" ry="3.3" fill="#6a6a6a"/>
<text class="ax" x="648.4" y="165.5" fill="#222">Phi</text>
<path d="M664 166.8L653.4 163.8L653.4 169.8Z" fill="#f01414"/>
<text class="ax" x="672" y="166.6" fill="#222" style="font-size:4.8px">x</text>
<text class="ax" x="510.4" y="5.5" fill="#222">z</text>
<path d="M510.4 34.5L533.7 37.2" stroke="#747474" stroke-width="1.3" fill="none"/>
<path d="M543.7 39.1L532.3 34.2L532.1 40Z" fill="#747474"/>
<text class="th" x="547.5" y="28.3">Theta</text>
<path d="M641.8 299.3V286" stroke="#2222c8" stroke-width="2.8" fill="none"/>
<path d="M641.8 281L638.9 287.3L644.7 287.3Z" fill="#1c1cc0"/>
<path d="M641.3 299.3H655" stroke="#cc3434" stroke-width="2.5" fill="none"/>
<path d="M660 299.3L654 296.8L654 301.8Z" fill="#b82c2c"/>
<circle cx="640.2" cy="301.3" r="1.2" fill="#30b030"/>
<circle cx="641.8" cy="299.3" r="1.3" fill="#d02020"/>
<text class="ax2" x="640.1" y="278.8" fill="#3030f0">z</text>
<text class="ax2" x="663.3" y="301.1" fill="#f02020">x</text>
</g>
<rect x="599" y="-1" width="77" height="118.5" fill="#fff"/>
<text class="lgt" x="636" y="12.5">dBi</text>
<rect x="651.5" y="23.3" width="12.5" height="84.9" fill="url(#bar)" stroke="#000" stroke-width=".8"/>
<path d="M647.1 23.3H651.5M647.1 25.4H651.5M647.1 27.5H651.5M647.1 29.7H651.5M647.1 31.8H651.5M647.1 33.9H651.5M647.1 36H651.5M647.1 38.2H651.5M647.1 40.3H651.5M647.1 42.4H651.5M647.1 44.5H651.5M647.1 46.6H651.5M647.1 48.8H651.5M647.1 50.9H651.5M647.1 53H651.5M647.1 55.1H651.5M647.1 57.3H651.5M647.1 59.4H651.5M647.1 61.5H651.5M647.1 63.6H651.5M647.1 65.8H651.5M647.1 67.9H651.5M647.1 70H651.5M647.1 72.1H651.5M647.1 74.2H651.5M647.1 76.4H651.5M647.1 78.5H651.5M647.1 80.6H651.5M647.1 82.7H651.5M647.1 84.9H651.5M647.1 87H651.5M647.1 89.1H651.5M647.1 91.2H651.5M647.1 93.3H651.5M647.1 95.5H651.5M647.1 97.6H651.5M647.1 99.7H651.5M647.1 101.8H651.5M647.1 104H651.5M647.1 106.1H651.5M647.1 108.2H651.5" stroke="#000" stroke-width=".7" fill="none"/>
<text class="lg" x="642.5" y="26.2">7.26</text>
<text class="lg" x="642.5" y="39.7">1.2</text>
<text class="lg" x="642.5" y="51.9">-4.86</text>
<text class="lg" x="642.5" y="64.9">-10.9</text>
<text class="lg" x="642.5" y="77.5">-17</text>
<text class="lg" x="642.5" y="90">-23</text>
<text class="lg" x="642.5" y="109.7">-32.7</text>
<path d="M643.5 23.5H651.5M643.5 37H651.5M643.5 49.2H651.5M643.5 62.2H651.5M643.5 74.8H651.5M643.5 87.3H651.5M643.5 107H651.5" stroke="#000" stroke-width=".9" fill="none"/>
<path d="M651 24.1L645.5 21.3L645.5 26.9Z" fill="#000"/>
<path d="M651 76.5L645.5 73.7L645.5 79.3Z" fill="#000"/>
<path d="M647.5 24.1L643.5 21.7L643.5 26.5Z" fill="#000"/>
<rect x="343.6" y="229.5" width="133.4" height="101.5" fill="#fff"/>
<text class="tb" x="347" y="240.6" textLength="75.5" lengthAdjust="spacingAndGlyphs">farfield (f=5.9) [2]</text>
<text class="t" x="348.7" y="253.2" textLength="16.3" lengthAdjust="spacingAndGlyphs">Type</text>
<text class="t" x="407.8" y="253.2" textLength="24.9" lengthAdjust="spacingAndGlyphs">Farfield</text>
<text class="t" x="348.7" y="263.7" textLength="51.5" lengthAdjust="spacingAndGlyphs">Approximation</text>
<text class="t" x="407.8" y="263.7" textLength="63.2" lengthAdjust="spacingAndGlyphs">enabled (kR &gt;&gt; 1)</text>
<text class="t" x="348.7" y="274.2" textLength="41.3" lengthAdjust="spacingAndGlyphs">Component</text>
<text class="t" x="407.8" y="274.2" textLength="12.7" lengthAdjust="spacingAndGlyphs">Abs</text>
<text class="t" x="348.7" y="284.7" textLength="24.5" lengthAdjust="spacingAndGlyphs">Output</text>
<text class="t" x="407.8" y="284.7" textLength="15.1" lengthAdjust="spacingAndGlyphs">Gain</text>
<text class="t" x="348.7" y="295.2" textLength="35.6" lengthAdjust="spacingAndGlyphs">Frequency</text>
<text class="t" x="407.8" y="295.2" textLength="27" lengthAdjust="spacingAndGlyphs">5.9 GHz</text>
<text class="t" x="348.7" y="305.7" textLength="33.1" lengthAdjust="spacingAndGlyphs">Rad. Effic.</text>
<text class="t" x="407.8" y="305.7" textLength="37.2" lengthAdjust="spacingAndGlyphs">-0.9637 dB</text>
<text class="t" x="348.7" y="316.2" textLength="30.5" lengthAdjust="spacingAndGlyphs">Tot. Effic.</text>
<text class="t" x="407.8" y="316.2" textLength="33.1" lengthAdjust="spacingAndGlyphs">-1.019 dB</text>
<text class="t" x="348.7" y="326.7" textLength="15.1" lengthAdjust="spacingAndGlyphs">Gain</text>
<text class="t" x="407.8" y="326.7" textLength="32.1" lengthAdjust="spacingAndGlyphs">7.263 dBi</text>
<rect x="0" y="366" width="338" height="336" fill="url(#bg)"/>
<g>
<circle cx="169.5" cy="535" r="122.5" fill="none" stroke="#14cc32" stroke-width="1.2"/>
<clipPath id="clipc"><path d="M160 413.2C163.4 413.4 167.6 414.1 171.4 415.4C175.2 416.7 179 418.8 182.8 421C186.6 423.2 190.7 426 194.2 428.7C197.7 431.4 200.8 434.3 203.6 437.3C206.4 440.3 209 443.7 211.2 446.7C213.4 449.7 215 452.4 216.9 455.3C218.8 458.2 220.1 461.3 222.6 463.8C225.1 466.3 228.5 468.6 232 470.5C235.5 472.4 239.7 473.6 243.5 475.2C247.3 476.8 251.1 478.1 254.9 480C258.7 481.9 262.8 483.9 266.3 486.6C269.8 489.3 273.3 492.5 275.8 496C278.3 499.5 280 503.7 281.4 507.5C282.8 511.3 283.7 514.6 284.3 518.9C284.9 523.1 285.7 528.4 285.2 533C284.7 537.6 283.3 542.1 281.4 546.6C279.5 551.1 277 555.8 273.9 559.8C270.8 563.8 266.6 567.1 262.5 570.3C258.4 573.5 253.6 575.8 249.2 578.8C244.8 581.8 240 585.1 235.9 588.3C231.8 591.5 228.3 595.3 224.5 597.8C220.7 600.3 217.5 602.3 213.1 603.5C208.7 604.7 202.6 604.9 198 605C193.4 605.1 188.6 603.4 185.6 604.4C182.6 605.4 181.7 608.3 180 611C178.3 613.7 177.3 617.9 175.2 620.6C173.1 623.3 170.1 625.5 167.6 627.2C165.1 628.9 162.9 630.1 160 631C157.1 631.9 152.5 632.7 150 632.5C147.5 632.3 147 631 144.9 630C142.8 629 139.8 628.3 137.3 626.3C134.8 624.3 131.9 621 130 618C128.1 615 127 611 126 608C125 605 124.7 601.9 124 599.7C123.3 597.5 123.3 596.4 122 595C120.7 593.6 118.9 592.8 116.4 591.2C113.9 589.6 110.5 587.9 107 585.5C103.5 583.1 99 579.9 95.5 577C92 574.1 89 571.6 86 568.4C83 565.2 80 561.6 77.5 558C75 554.4 72.7 550.4 70.9 546.6C69.2 542.8 68 538.9 67 535.2C66 531.5 65.4 528.2 65.2 524.5C65 520.8 65.2 516.8 66 513C66.8 509.2 68.1 505.2 69.9 501.8C71.7 498.4 73.9 494.8 76.6 492.3C79.3 489.8 82.5 487.9 86 486.6C89.5 485.3 93.6 485 97.4 484.7C101.2 484.4 106.6 485.3 108.8 484.7C111 484.1 110.8 483.2 110.7 481C110.6 478.8 108.7 474.9 107.9 471.4C107.1 467.9 106.2 463.8 106 460C105.8 456.2 106.1 452.1 106.9 448.6C107.7 445.1 108.8 442.1 110.7 439C112.6 435.9 115.1 432.5 118.3 429.7C121.5 426.9 125.6 424.2 129.7 422C133.8 419.8 139.4 417.7 143 416.4C146.6 415.1 148.2 414.5 151 414C153.8 413.5 156.6 413 160 413.2Z"/></clipPath>
<g clip-path="url(#clipc)">
<rect x="61.2" y="409.2" width="228" height="227.3" fill="#11c125"/>
<path fill="#1fc81e" fill-rule="evenodd" d="M61.2 409.2L289.9 409.2L289.9 636.7L61.2 636.7Z"/>
<path fill="#34ce18" fill-rule="evenodd" d="M61.2 409.2L289.9 409.2L289.9 636.7L61.2 636.7ZM152.5 555.4L149.6 556.7L148.8 559.2L149.9 561.6L152.4 562.6L154.9 561.7L156.1 559.2L155.2 556.7Z"/>
<path fill="#56d313" fill-rule="evenodd" d="M61.2 409.2L289.9 409.2L289.9 636.7L61.2 636.7ZM152.4 552.9L149.9 553.3L147.4 555.1L146.6 556.7L146.2 559.2L147.7 563L149.9 564.6L152.4 565.1L154.9 564.7L157.4 563L158.7 559.2L158.3 556.7L157.4 555.2L154.9 553.4Z"/>
<path fill="#78d70f" fill-rule="evenodd" d="M61.2 409.2L289.9 409.2L289.9 636.7L61.2 636.7ZM152.4 595.9L139.9 597L136.2 598.6L134.3 600.5L134.1 601.7L134.7 603L136.2 603.9L138.7 604.4L147.4 602.5L156.2 605.6L158.7 605.3L163.7 603.2L164.9 603.4L168.7 606.1L171.2 606.9L174 606.7L175.6 605.5L175.6 604.2L174.4 603L171.8 601.7L168.7 601.5L164.9 602.5L163.7 602.2L159.2 598L156.2 596.4ZM147.4 551.6L144.9 553.8L143.9 556.7L143.9 560.5L145.4 564.2L147.4 566.1L151.2 567.3L154.9 567.3L158.7 565.6L160.5 563L161.2 559.2L160.6 555.5L159.1 553L156.2 551.1L153.7 550.7L149.9 550.8Z"/>
<path fill="#90d80b" fill-rule="evenodd" d="M61.2 409.2L289.9 409.2L289.9 636.7L61.2 636.7ZM146.2 548.7L143.4 550.5L141.3 554.2L141.3 561.7L142.8 565.5L146.2 568.6L149.9 569.8L156.2 570L158.7 569.3L161 568L163 565.5L163.9 561.7L163.8 555.5L162.4 551.7L159.9 549.4L157.4 548.4L149.9 548ZM148.7 591.6L138.7 593.2L133.7 594.9L130.2 596.7L128.7 598L127.1 600.5L126.8 603L127.5 605.5L129.9 608L133.7 609.3L139.9 609.3L148.7 607.7L156.2 609.5L163.7 608.6L166.2 609L172.4 611.6L176.2 612.3L181.2 611.5L183.7 609.8L185 608L185.5 605.5L185 603L182.4 600.2L178.7 599.1L167.4 598.2L164.9 597.3L157.4 592.7L153.7 591.8Z"/>
<path fill="#a8da06" fill-rule="evenodd" d="M61.2 409.2L289.9 409.2L289.9 636.7L61.2 636.7ZM111.2 477.9L110.5 480.5L111 481.7L112.5 483L114.9 483.3L117.2 481.7L117.2 479.2L116.2 477.8L113.7 476.8ZM147.4 544.1L143.7 544.9L141.2 546.3L138 550.5L137.2 554.2L137.2 558L137.8 563L139.2 566.7L141.2 569.2L143.7 571.1L148.7 573.1L157.4 573.9L161.2 573.3L163.7 572.2L166.6 569.2L168.3 564.2L168.4 554.2L167 549.2L164.9 546.7L161.2 544.7L157.4 544.1ZM146.2 587.8L131.2 592.2L127.4 594.1L124.9 596.1L122.7 599.2L121.6 603L121.9 606.7L124.1 610.5L127.5 612.8L131.2 613.9L146.2 613.4L155 614.3L163.7 613L166.2 613.5L173.7 616.4L179.9 617.4L183.7 616.8L186.2 615.9L188.7 614.1L190.7 611.7L191.9 608L191.4 603L189.3 599.2L186.2 596.6L183.7 595.5L179.9 595L169.9 596.2L167.4 595.3L161.2 590.2L157.4 588.2L152.4 587.5Z"/>
<path fill="#bedb03" fill-rule="evenodd" d="M61.2 409.2L289.9 409.2L289.9 636.7L61.2 636.7ZM111.2 474.1L108.7 475.8L107.6 478L107.5 480.4L108.7 483.2L111.2 485.6L113.7 486.6L117.5 486.7L120.3 485.4L121.3 484.2L121.9 481.7L121.4 479.2L120 476.7L116.2 474L113.7 473.5ZM153.7 505.3L147.4 508.7L144.9 511.2L142.9 514.2L141.6 518L141.5 521.7L144.5 533L142.7 535.5L134.5 544.2L133 546.7L132.1 550.5L132.1 561.7L133.1 566.7L135.5 570.5L143.9 578L145.3 580.5L143 583L139.3 585.5L136.2 587L127.4 589.9L121.2 594.2L118.3 598L116.7 601.7L116.1 605.5L116.7 609.2L118.5 613L120.9 615.5L125 617.8L128.7 618.8L143.7 618.7L154.9 620.7L164.9 618.8L178.7 622.5L183.7 622.7L187.4 622L191.2 620.5L193.7 618.7L196.2 616L197.8 613L198.8 609.2L198.8 605.5L197.9 601.7L196.2 598L192.4 593.6L184.9 589.2L179.9 588.5L171.2 591.6L169.9 591.1L168.7 589.7L167.7 586.7L168.4 584.2L174.6 579.2L178.9 573L180 569.2L181.6 559.2L187 548L186.9 544.2L183.7 537.1L179.9 532.3L177.4 531.3L169.9 529.9L167.4 528.6L166.2 526.9L165.5 521.7L166.3 513L165.9 510.5L164.7 507.9L162.4 505.9L159.9 504.9L157.4 504.7Z"/>
<path fill="#d3dd01" fill-rule="evenodd" d="M61.2 409.2L289.9 409.2L289.9 636.7L61.2 636.7ZM112.5 470.3L110 470.9L107.5 472.3L105 475.4L104.5 479.2L106.2 483.9L108.5 486.7L111.2 488.6L122.4 491.4L125.6 492.9L131.6 501.7L132.2 504.2L129.6 510.5L129 514.2L129.3 518L131.9 529.2L132 534.2L131.1 538L127.7 545.5L126.6 549.2L124.2 566.7L124.9 571.2L130.7 578L131.8 580.5L131.4 581.7L129.8 583L125 585.8L117.4 591.7L112.6 598L111 601.7L110.2 606.7L110.8 611.7L112.4 615.5L115 618.7L118.7 621.6L122.4 623.3L127.5 624.4L143.7 624.2L156.2 625.8L164.9 625L177.5 628.1L183.7 628.8L189.9 628.1L196.2 625.7L200 623L203.3 619.2L205.9 614.2L207.2 609.2L207.2 604.2L205.7 595.5L205.4 588L208.7 574.7L211.9 558L212.7 550.5L212 541.7L209.5 534.2L207.4 531.5L202.4 528.3L199 521.7L194.7 516.7L189.9 513.3L178.7 507.8L169.9 499.6L167.4 498.2L159.9 495.6L153.7 494.5L151.2 494.8L142.4 498.9L139.9 499.2L137.4 498.6L136.2 497.2L134.3 492.9L128.9 487.9L125.5 479.2L122.5 474.5L117.5 470.9Z"/>
<path fill="#dfd401" fill-rule="evenodd" d="M61.2 409.2L289.9 409.2L289.9 636.7L61.2 636.7ZM111.2 466.6L106.9 467.9L103.6 470.5L101.5 474.2L101.4 479.2L102.8 482.9L106.2 487.9L110 491.1L116.5 494.2L117.9 495.5L119.2 497.9L119.5 501.7L117.1 510.4L117.2 515.5L118.8 520.5L124.2 531.7L125.2 538L124.7 540.5L120.6 549.2L118.2 559.2L117.6 566.7L119.2 578L118.6 581.7L117.1 584.2L108.1 594.2L105.9 598L104.1 603L103.4 608L103.7 611.7L104.5 615.5L106.2 619.1L109 623L113.7 626.8L118.7 629.2L125 630.6L131.2 630.8L148.7 630L164.9 632L178.7 634.9L184.9 635.5L193.7 634.6L201.2 631.7L205 629.2L208.7 625.8L214.2 618L217.4 610.5L223.7 589.8L224 566.7L225.4 544.2L223.6 529.2L220.9 520.5L217.4 516L211.2 512L197.4 506L179.9 500.7L176.2 498.7L169.9 494.2L163.7 491.4L156.2 489L151.2 488.2L148.7 488.7L142.4 491.9L139.9 491.7L138.4 490.4L133.5 484.2L122.4 468.9L120 467.2L117.5 466.5Z"/>
<path fill="#e1c103" fill-rule="evenodd" d="M61.2 409.2L289.9 409.2L289.9 636.7L209 636.7L213.7 633L217.4 629.2L223.5 620.5L229.5 606.7L233.3 593L233.7 586.7L233.1 565.5L234.5 545.5L230.9 520.5L228.8 513L226.2 509.5L222.4 507.1L201.2 498.8L181.2 494.8L167.4 488L156.2 484.6L151.2 483.9L143.7 484.9L141.2 484.6L137.4 481.5L131.2 474.2L125 462.8L123.4 461.7L120 461.1L110 462L103.7 464.3L100.6 466.7L98.7 469.2L97.6 471.7L97 475.5L97.7 479.2L99.5 483L104.9 491L110.6 496.7L112.1 499.2L111.9 502.9L109 513L108.4 519.2L109.4 524.2L114.5 535.5L115 539.2L111.1 558L110.8 576.7L108.7 581.6L101.5 591.7L98.2 598L96.1 605.5L95.8 613L97.7 620.5L99.6 624.2L102.4 628L108.7 633.2L117 636.7L61.2 636.7Z"/>
<path fill="#e2ac05" fill-rule="evenodd" d="M61.2 409.2L289.9 409.2L289.9 636.7L222.7 636.7L229.4 628L234.6 618L238.5 606.7L240.7 595.5L241.1 588L240.8 568L241.6 543L239.6 524.2L238.6 507.9L237.9 504.2L236.9 501.7L233.7 499.9L223.7 498.5L217.4 497L201.2 491.2L183.7 489.1L164.9 482.2L154.9 479.8L146.2 478.9L142.4 477.9L138.7 475.7L134.8 471.7L129.7 461.7L127.5 458.8L123.7 456.5L117.5 455.5L107.5 456.9L103.7 458.1L99.4 460.5L94.4 465.4L92.5 469.2L91.7 473L91.8 476.7L93 480.4L100 489.8L103 496.7L103.9 500.4L103.4 504.2L99.3 515.5L98.3 520.5L98.6 525.5L101 536.7L101.8 543L101.8 560.5L101.1 570.5L98.9 578L92.2 590.5L89.5 596.7L87.7 603L86.8 609.2L87.2 616.7L89.1 624.2L92.5 630.5L97.8 636.7L61.2 636.7Z"/>
<path fill="#e29507" fill-rule="evenodd" d="M61.2 409.2L289.9 409.2L289.9 636.7L234.3 636.7L239.9 627L244 616.7L246.8 605.5L248 594.2L247.8 575.5L248.7 533L247.2 515.5L245.3 501.7L243.7 497L241.6 494.2L238.7 492.2L236.2 491.6L226.2 491.5L220.4 490.4L198.7 481.3L194.9 481L187.4 482.2L183.7 482L167.4 476.6L144.9 472.4L141.2 470.6L138.7 468.6L132.4 458.2L128.7 454.3L122.5 451.1L115 450.1L105 451.5L100 453.2L95.8 455.4L92.4 457.9L89 461.7L86.6 465.4L85.2 469.2L84.3 475.5L85.4 482.9L87.5 487.4L92.9 494.2L94 499.2L90.2 520.5L89.5 538L88.1 550.5L88.4 563L87.9 569.2L86 576.7L78.8 596.7L76.6 609.2L76.6 616.7L77.9 624.2L80.1 630.5L83.5 636.7L61.2 636.7ZM218.7 447.6L212.5 450.4L208.6 454.2L207.2 456.7L206.7 459.2L208.2 462.9L213.7 467.1L218.7 468.8L231.2 469.5L234.9 468.6L236.9 465.5L237.5 461.7L236.7 456.7L234.7 452.9L231.2 449.6L227.4 447.8L223.7 447.2Z"/>
<path fill="#e27d08" fill-rule="evenodd" d="M61.2 409.2L289.9 409.2L289.9 636.7L244.8 636.7L248.3 629.2L251.3 620.5L253.4 611.7L254.6 603L255.1 593L255.1 570.5L257.8 545.5L256.2 520L255.2 511.7L252.2 497.9L247.5 485.4L246.6 481.7L248.7 464.2L248.3 459.2L247.1 454.2L243.9 447.9L238.7 443L232.4 440.1L226.2 439.3L218.7 440.6L212.4 443.4L193.8 456.7L183.7 464.9L179.9 466.5L174.9 466.4L162.4 463L151.2 464.6L144.9 464.1L141.4 461.7L135.3 454.2L129.9 449.6L123.7 446.4L116.2 444.8L106.2 445.2L96.3 447.9L88.7 452.1L82.4 457.9L79 462.9L76.8 467.9L75.4 472.9L74.7 479.2L75.6 489.2L79.5 501.7L80.5 507.9L80.8 519.2L79.5 536.7L74.1 569.2L67 595.5L64.8 609.2L64.7 616.7L65.5 624.2L66.9 630.5L69.2 636.7L61.2 636.7Z"/>
<path fill="#e06008" fill-rule="evenodd" d="M61.2 409.2L289.9 409.2L289.9 636.7L254.6 636.7L258.7 624.6L261.2 611.7L262.2 598L262.3 569.2L263.2 561.7L266 548L264.4 530.5L263.7 505.5L258.2 489.2L257 484.2L256.6 477.9L257.5 461.7L256.8 455.4L255.4 450.5L252.3 444.2L248.2 439.2L243.2 435.4L237.4 433L228.7 431.8L219.9 433.2L213.7 435.6L202.4 442.4L197.4 444.7L188.7 447.6L181.2 448.9L174.9 449.3L161.2 448.6L157.4 449.2L148.7 452L144.9 452.1L141.2 451L132.4 445.2L126.2 442.2L120 440.2L111.2 439.3L102.5 439.9L95 441.5L87.5 444.5L81.2 448.3L74.7 454.2L70.1 460.4L66.6 467.9L64.6 475.4L63.9 481.7L64 487.9L66.9 509.2L68.3 535.5L67.3 543L61.2 565.9Z"/>
<path fill="#de4308" fill-rule="evenodd" d="M61.2 409.2L289.9 409.2L289.9 636.7L264.1 636.7L267.7 621.7L269.4 606.7L269.2 569.2L271.6 548L270.2 525.5L270.9 505.4L269.9 497.9L266 484.2L266.2 461.7L264.9 451.7L263.4 446.7L261.2 441.7L258.7 437.8L254.9 433.4L249.9 429.4L243.7 426.2L237.4 424.6L231.2 424.1L224.9 424.7L217.4 426.7L198.7 435.9L188.7 439.2L178.7 440.5L159.9 441.6L148.7 442.9L141.2 442.1L127.5 437.3L117.5 434.8L107.5 433.7L98.7 434.1L87.5 436.5L77.5 441L68.2 447.9L61.2 456.1Z"/>
<path fill="#db3007" fill-rule="evenodd" d="M61.2 409.2L289.9 409.2L289.9 636.7L273.4 636.7L275.9 623L277.1 608L276 569.2L277.1 548L276.1 525.5L277.3 506.7L277.3 497.9L275.3 481.7L274.9 460.4L273.3 449.2L271.5 442.9L268.6 436.7L265.4 431.7L261.2 426.9L254.9 422L247.4 418.4L239.9 416.5L231.2 416.1L224.9 417L217.4 419L193.7 430.2L188.7 432L182.4 433.3L162.4 435L149.9 434.9L127.5 431.7L110 428L102.5 427.4L96.2 427.5L86.2 429L77.5 431.7L68.7 436L61.2 441.2Z"/>
<path fill="#d82005" fill-rule="evenodd" d="M61.2 409.2L222.4 409.2L222.7 409.2L211.2 413.2L189.4 424.2L184.9 425.8L181.2 426.4L159.9 427.7L142.4 425L126.2 424.8L108.7 421L94.9 420.1L86.2 420.8L77.5 422.6L68.8 425.4L61.2 429.1ZM248.2 409.2L289.9 409.2L289.9 636.7L282.7 636.7L284.5 623L285.2 608L283.2 569.2L282.2 529.2L284.6 494.2L283.9 461.7L282.5 449.2L280.6 441.7L277.7 434.2L274.1 428L270.2 422.9L265.1 417.9L259.9 414.3L253.7 411.1Z"/>
<path d="M160 413.2C163.4 413.4 167.6 414.1 171.4 415.4C175.2 416.7 179 418.8 182.8 421C186.6 423.2 190.7 426 194.2 428.7C197.7 431.4 200.8 434.3 203.6 437.3C206.4 440.3 209 443.7 211.2 446.7C213.4 449.7 215 452.4 216.9 455.3C218.8 458.2 220.1 461.3 222.6 463.8C225.1 466.3 228.5 468.6 232 470.5C235.5 472.4 239.7 473.6 243.5 475.2C247.3 476.8 251.1 478.1 254.9 480C258.7 481.9 262.8 483.9 266.3 486.6C269.8 489.3 273.3 492.5 275.8 496C278.3 499.5 280 503.7 281.4 507.5C282.8 511.3 283.7 514.6 284.3 518.9C284.9 523.1 285.7 528.4 285.2 533C284.7 537.6 283.3 542.1 281.4 546.6C279.5 551.1 277 555.8 273.9 559.8C270.8 563.8 266.6 567.1 262.5 570.3C258.4 573.5 253.6 575.8 249.2 578.8C244.8 581.8 240 585.1 235.9 588.3C231.8 591.5 228.3 595.3 224.5 597.8C220.7 600.3 217.5 602.3 213.1 603.5C208.7 604.7 202.6 604.9 198 605C193.4 605.1 188.6 603.4 185.6 604.4C182.6 605.4 181.7 608.3 180 611C178.3 613.7 177.3 617.9 175.2 620.6C173.1 623.3 170.1 625.5 167.6 627.2C165.1 628.9 162.9 630.1 160 631C157.1 631.9 152.5 632.7 150 632.5C147.5 632.3 147 631 144.9 630C142.8 629 139.8 628.3 137.3 626.3C134.8 624.3 131.9 621 130 618C128.1 615 127 611 126 608C125 605 124.7 601.9 124 599.7C123.3 597.5 123.3 596.4 122 595C120.7 593.6 118.9 592.8 116.4 591.2C113.9 589.6 110.5 587.9 107 585.5C103.5 583.1 99 579.9 95.5 577C92 574.1 89 571.6 86 568.4C83 565.2 80 561.6 77.5 558C75 554.4 72.7 550.4 70.9 546.6C69.2 542.8 68 538.9 67 535.2C66 531.5 65.4 528.2 65.2 524.5C65 520.8 65.2 516.8 66 513C66.8 509.2 68.1 505.2 69.9 501.8C71.7 498.4 73.9 494.8 76.6 492.3C79.3 489.8 82.5 487.9 86 486.6C89.5 485.3 93.6 485 97.4 484.7C101.2 484.4 106.6 485.3 108.8 484.7C111 484.1 110.8 483.2 110.7 481C110.6 478.8 108.7 474.9 107.9 471.4C107.1 467.9 106.2 463.8 106 460C105.8 456.2 106.1 452.1 106.9 448.6C107.7 445.1 108.8 442.1 110.7 439C112.6 435.9 115.1 432.5 118.3 429.7C121.5 426.9 125.6 424.2 129.7 422C133.8 419.8 139.4 417.7 143 416.4C146.6 415.1 148.2 414.5 151 414C153.8 413.5 156.6 413 160 413.2Z" fill="none" stroke="#3a2000" stroke-opacity=".14" stroke-width="6" filter="url(#blur3)"/>
<rect x="61.2" y="409.2" width="228" height="36.4" fill="url(#topshade)"/>
</g>
<path d="M169.5 387V412.8" stroke="#3232f0" stroke-width="1.2" fill="none"/>
<path d="M169.5 376.6L166.4 387.5L172.6 387.5Z" fill="#3232f0"/>
<path d="M169.5 412.8V656" stroke="#f01414" stroke-width="1.3" fill="none"/>
<path d="M47 535H291.8" stroke="#3232f0" stroke-width="1.4" fill="none"/>
<path d="M291.8 535H318.8" stroke="#f01414" stroke-width="1.5" fill="none"/>
<ellipse cx="302.4" cy="535" rx="2.6" ry="3.3" fill="#6a6a6a"/>
<text class="ax" x="311.4" y="533.7" fill="#222">Phi</text>
<path d="M327.8 535L317.2 532L317.2 538Z" fill="#f01414"/>
<text class="ax" x="335.8" y="534.8" fill="#222" style="font-size:4.8px">x</text>
<text class="ax" x="170.1" y="370.1" fill="#222">z</text>
<path d="M170.1 399.4L194.9 402.4" stroke="#747474" stroke-width="1.3" fill="none"/>
<path d="M204.9 404.3L193.5 399.4L193.3 405.2Z" fill="#747474"/>
<text class="th" x="208.4" y="392.9">Theta</text>
<path d="M304.5 670.7V657" stroke="#2222c8" stroke-width="2.8" fill="none"/>
<path d="M304.5 652L301.6 658.3L307.4 658.3Z" fill="#1c1cc0"/>
<path d="M304 670.7H318.4" stroke="#cc3434" stroke-width="2.5" fill="none"/>
<path d="M323.4 670.7L317.4 668.2L317.4 673.2Z" fill="#b82c2c"/>
<circle cx="302.9" cy="672.7" r="1.2" fill="#30b030"/>
<circle cx="304.5" cy="670.7" r="1.3" fill="#d02020"/>
<text class="ax2" x="302.8" y="649.8" fill="#3030f0">z</text>
<text class="ax2" x="326.7" y="672.5" fill="#f02020">x</text>
</g>
<rect x="261" y="365" width="76.8" height="119.5" fill="#fff"/>
<text class="lgt" x="299" y="377">dBi</text>
<rect x="314.9" y="387.3" width="12.8" height="87.5" fill="url(#bar)" stroke="#000" stroke-width=".8"/>
<path d="M310.5 387.3H314.9M310.5 389.5H314.9M310.5 391.7H314.9M310.5 393.9H314.9M310.5 396.1H314.9M310.5 398.2H314.9M310.5 400.4H314.9M310.5 402.6H314.9M310.5 404.8H314.9M310.5 407H314.9M310.5 409.2H314.9M310.5 411.4H314.9M310.5 413.6H314.9M310.5 415.7H314.9M310.5 417.9H314.9M310.5 420.1H314.9M310.5 422.3H314.9M310.5 424.5H314.9M310.5 426.7H314.9M310.5 428.9H314.9M310.5 431.1H314.9M310.5 433.2H314.9M310.5 435.4H314.9M310.5 437.6H314.9M310.5 439.8H314.9M310.5 442H314.9M310.5 444.2H314.9M310.5 446.4H314.9M310.5 448.6H314.9M310.5 450.7H314.9M310.5 452.9H314.9M310.5 455.1H314.9M310.5 457.3H314.9M310.5 459.5H314.9M310.5 461.7H314.9M310.5 463.9H314.9M310.5 466.1H314.9M310.5 468.2H314.9M310.5 470.4H314.9M310.5 472.6H314.9M310.5 474.8H314.9" stroke="#000" stroke-width=".7" fill="none"/>
<text class="lg" x="304.5" y="390.7">7.31</text>
<text class="lg" x="304.5" y="404.2">1.25</text>
<text class="lg" x="304.5" y="417.2">-4.81</text>
<text class="lg" x="304.5" y="430.7">-10.9</text>
<text class="lg" x="304.5" y="443.7">-16.9</text>
<text class="lg" x="304.5" y="456.7">-23</text>
<text class="lg" x="304.5" y="476.7">-32.7</text>
<path d="M306.9 388H314.9M306.9 401.5H314.9M306.9 414.5H314.9M306.9 428H314.9M306.9 441H314.9M306.9 454H314.9M306.9 474H314.9" stroke="#000" stroke-width=".9" fill="none"/>
<path d="M314.4 388.1L308.9 385.3L308.9 390.9Z" fill="#000"/>
<path d="M314.4 443L308.9 440.2L308.9 445.8Z" fill="#000"/>
<path d="M310.9 388.1L306.9 385.7L306.9 390.5Z" fill="#000"/>
<rect x="0" y="598" width="136" height="104" fill="#fff"/>
<text class="tb" x="2.5" y="610" textLength="75.5" lengthAdjust="spacingAndGlyphs">farfield (f=5.9) [3]</text>
<text class="t" x="5" y="622.7" textLength="16.3" lengthAdjust="spacingAndGlyphs">Type</text>
<text class="t" x="65" y="622.7" textLength="24.9" lengthAdjust="spacingAndGlyphs">Farfield</text>
<text class="t" x="5" y="633.5" textLength="51.5" lengthAdjust="spacingAndGlyphs">Approximation</text>
<text class="t" x="65" y="633.5" textLength="63.2" lengthAdjust="spacingAndGlyphs">enabled (kR &gt;&gt; 1)</text>
<text class="t" x="5" y="644.3" textLength="41.3" lengthAdjust="spacingAndGlyphs">Component</text>
<text class="t" x="65" y="644.3" textLength="12.7" lengthAdjust="spacingAndGlyphs">Abs</text>
<text class="t" x="5" y="655" textLength="24.5" lengthAdjust="spacingAndGlyphs">Output</text>
<text class="t" x="65" y="655" textLength="15.1" lengthAdjust="spacingAndGlyphs">Gain</text>
<text class="t" x="5" y="665.8" textLength="35.6" lengthAdjust="spacingAndGlyphs">Frequency</text>
<text class="t" x="65" y="665.8" textLength="27" lengthAdjust="spacingAndGlyphs">5.9 GHz</text>
<text class="t" x="5" y="676.6" textLength="33.1" lengthAdjust="spacingAndGlyphs">Rad. Effic.</text>
<text class="t" x="65" y="676.6" textLength="37.2" lengthAdjust="spacingAndGlyphs">-0.9785 dB</text>
<text class="t" x="5" y="687.4" textLength="30.5" lengthAdjust="spacingAndGlyphs">Tot. Effic.</text>
<text class="t" x="65" y="687.4" textLength="33.1" lengthAdjust="spacingAndGlyphs">-1.023 dB</text>
<text class="t" x="5" y="698.2" textLength="15.1" lengthAdjust="spacingAndGlyphs">Gain</text>
<text class="t" x="65" y="698.2" textLength="32.1" lengthAdjust="spacingAndGlyphs">7.315 dBi</text>
<rect x="338" y="358" width="347" height="344" fill="url(#bg)"/>
<g>
<circle cx="512" cy="530" r="126" fill="none" stroke="#14cc32" stroke-width="1.2"/>
<clipPath id="clipd"><path d="M513 405.7C517 405.5 520.5 405.7 524.7 406.6C528.9 407.6 533.9 409.3 538 411.4C542.1 413.5 545.8 416.1 549.3 419C552.8 421.9 555.9 425.3 558.8 428.5C561.6 431.7 563.5 434.9 566.4 438C569.2 441.1 572.7 444.2 575.9 447.4C579.1 450.6 582.5 453.8 585.4 457C588.2 460.2 590.8 463.2 593 466.4C595.2 469.6 597.4 472.8 598.7 476C600 479.2 600.5 481.6 600.6 485.4C600.8 489.2 600.1 493.9 599.6 498.7C599.1 503.4 598.1 509.5 597.7 513.9C597.3 518.3 596.8 521.5 597 525C597.2 528.5 598.7 531.3 598.7 535.2C598.7 539.1 597.8 544.1 596.8 548.5C595.8 552.9 594.9 557.3 593 561.7C591.1 566.1 588.2 570.9 585.4 575C582.5 579.1 579.1 583.4 575.9 586.4C572.7 589.4 569.5 591.6 566.4 593C563.2 594.4 560.2 595 557 595C553.8 595 550.6 593 547.4 593C544.2 593 540.2 594.5 538 595C535.8 595.5 534.7 594.3 534 596C533.3 597.7 534.5 602.2 534 605.4C533.5 608.5 532.8 611.9 531.3 614.9C529.8 617.9 527.4 621 524.7 623.4C522 625.8 518.4 627.9 515.2 629C512 630.1 509.1 630.5 505.7 630C502.3 629.5 498.3 628.2 494.9 626.3C491.5 624.4 487.9 621.6 485.4 618.7C482.9 615.8 480.8 612.2 479.7 609C478.6 605.8 479.1 602.2 478.7 599.7C478.2 597.2 479.3 594.6 477 594C474.7 593.4 469.9 595.7 465 596C460.1 596.3 451.9 597.3 447.4 596C442.9 594.7 440.7 591.5 438 588.3C435.3 585.1 432.9 581.1 431.3 577C429.7 572.9 429.4 568.4 428.5 563.6C427.6 558.9 426.1 553.2 425.6 548.5C425.1 543.8 425.3 539.1 425.6 535.2C425.9 531.3 426.4 528.9 427.5 525C428.6 521.1 430.7 516.4 432.3 512C433.9 507.6 435.3 503.1 437 498.7C438.7 494.3 441 489.5 442.7 485.4C444.4 481.3 446.4 477.8 447.4 474C448.3 470.2 447.9 466.4 448.4 462.6C448.9 458.8 449.2 455 450.3 451.2C451.4 447.4 452.9 443.4 455 439.8C457.1 436.2 459.4 432.7 462.6 429.4C465.8 426.1 469.9 422.9 474 420C478.1 417.1 482.9 414.4 487.3 412.3C491.7 410.2 496.3 408.7 500.6 407.6C504.9 406.5 509 405.9 513 405.7Z"/></clipPath>
<g clip-path="url(#clipd)">
<rect x="421.6" y="401.7" width="183" height="232.3" fill="#11c125"/>
<path fill="#1fc81e" fill-rule="evenodd" d="M421.6 401.7L605.4 401.7L605.4 634.2L421.6 634.2Z"/>
<path fill="#34ce18" fill-rule="evenodd" d="M421.6 401.7L605.4 401.7L605.4 634.2L421.6 634.2Z"/>
<path fill="#56d313" fill-rule="evenodd" d="M421.6 401.7L605.4 401.7L605.4 634.2L421.6 634.2Z"/>
<path fill="#78d70f" fill-rule="evenodd" d="M421.6 401.7L605.4 401.7L605.4 634.2L421.6 634.2ZM465.4 488.6L465.4 490.5L466.6 490.7L467.8 489.2L466.6 488.1ZM497.9 581.6L496.5 583L496 584.2L496.6 587.7L499.1 589.5L502.9 589.2L504.2 588L504.5 586.7L503.5 584.2L500.7 581.7Z"/>
<path fill="#90d80b" fill-rule="evenodd" d="M421.6 401.7L605.4 401.7L605.4 634.2L421.6 634.2ZM464.1 486.1L462.9 487.5L462.7 489.2L463.3 490.4L465.4 491.9L467.6 491.7L469.5 490.5L471.6 487.9L470.1 486.7L467.9 486ZM475.4 485.4L473.9 486.7L475.4 487.3L476.8 486.7L477.1 485.4ZM495.4 579L493.7 580.5L492.3 583L491.4 589.2L492.1 591.7L493.1 593L495.4 594.2L500.4 594.8L516.6 593.7L520.4 592.3L522.7 589.2L523.1 586.7L522.4 585.5L520.4 584.3L514.1 585.2L511.6 585L509.1 584L501.6 578.6L497.9 578.1ZM535.4 477.7L533.9 479.2L534.3 480.4L535.4 481.5L537.9 481.9L540.1 480.4L539.8 479.2L537.9 477.9Z"/>
<path fill="#a8da06" fill-rule="evenodd" d="M421.6 401.7L605.4 401.7L605.4 634.2L421.6 634.2L421.6 524.4L422.9 518L421.6 504.9ZM481.6 479L471.6 484.8L465.4 483.7L462.4 484.2L460.7 485.5L459.9 486.7L460.3 489.2L462.8 491.7L466.6 492.7L476.6 488.8L481.6 484.4L485.4 482.7L487.1 480.4L486.6 479.2L485.4 478.6ZM496.6 575.2L493 576.7L490.3 579.2L483.4 591.7L482.9 594.5L483.2 595.5L485.4 597.3L489.1 598.6L494.1 599.3L506.6 598.2L519.1 599L530.4 597L532.9 595.7L534.2 594.2L534.9 591.7L534.2 589.2L532.2 586.7L528.6 584.2L522.9 582L514.1 582.4L511.6 581.9L502.9 576.1L499.1 575ZM536.6 476.1L532.9 476.7L531.8 477.9L531.9 479.2L533.4 481.7L535.4 483.1L537.9 483.4L540.6 483L544.2 481.7L545.3 480.4L544.6 479.2L542.5 477.9ZM580.4 550.4L577.4 554.2L576.4 559.2L577.9 563.3L579.1 564.3L581.6 564.9L584.1 563.8L585.4 562.4L586.4 559.2L586.3 556.7L585.4 553L584.1 550.7L582.9 549.9ZM592.9 522L591.6 523.4L591.1 525.5L591 528L591.6 529.5L593.2 529.2L594.6 526.7L594.2 523Z"/>
<path fill="#bedb03" fill-rule="evenodd" d="M421.6 401.7L605.4 401.7L605.4 523.6L602.5 516.7L592.9 504.2L590.4 501.9L587.9 501.5L586.4 502.9L585.7 505.4L583.5 520.5L583.1 528L584.1 536.5L585.4 539.3L586.6 540.9L587.9 541.4L594.1 540.7L599.1 538.7L602.9 535.4L605.3 530.2L605.4 634.2L421.6 634.2L421.6 553L423.4 541.7L429.8 528L431.5 523L431.6 519.2L430.3 510.4L430.6 506.7L431.8 503L434.1 499.8L436.6 498.2L440.4 497.9L445.4 500.2L446.6 499.7L447.1 496.7L447.9 496L449.1 495.8L452.9 497.6L455.4 497.6L457.9 496.1L459.1 492.6L460.4 492.2L464.1 493.2L467.9 493.2L476.6 490.1L482.9 485.7L494.9 480.4L496.3 479.2L496.4 477.9L486.6 474.8L482.9 474.8L479.1 476.8L471.6 483.1L465.4 481.6L461.6 481.5L459.1 482.3L454.1 485.6L445.4 487.5L440.4 486.5L421.6 478.8ZM535.4 474.6L523.1 475.4L522.8 476.7L524.6 477.9L527.9 478.2L529.1 478.9L532.9 482.9L535.4 484.3L539.1 484.6L544.1 483.5L546.6 482.3L547.7 480.4L546.8 477.9L544.1 476.4ZM581.6 546.1L577.5 549.2L574.3 553L572.3 556.7L571.4 561.7L572.1 565.5L574.7 569.2L577.9 571.1L582.9 571.9L586.6 570.9L589.1 569.2L591.6 565.5L592.1 561.7L590.9 556.7L585.3 546.4L584.1 545.6ZM494.1 572.6L490.4 574.6L486.8 578L480.4 586.9L477.6 591.7L476.6 595.5L476.8 598L478.1 600.5L481.5 603L489.1 604.3L506.6 602.3L520.4 604.1L530.4 603.8L535.4 602.8L539.1 601.3L542.3 599.2L545.1 595.5L545.4 593L543.1 589.2L539.2 585.5L532.9 581.4L525.4 579.3L514.1 580.2L511.6 579.3L505.4 574.4L501.6 572.5L497.9 571.9Z"/>
<path fill="#d3dd01" fill-rule="evenodd" d="M421.6 401.7L605.4 401.7L605.4 511.5L595.6 501.7L591.6 498.7L589.1 497.8L586.6 497.7L582.9 499.2L581.5 501.7L581.1 507.9L578.7 520.5L579 528L580.7 538L580.5 541.7L579 544.2L569.6 554.2L567.1 559.2L566.3 564.2L566.9 568L568.1 570.5L570.4 573L574.1 575.3L579.1 577.3L582.9 578L586.6 578L591 576.7L596.1 573L597.9 570.4L599.5 566.7L600 560.5L598 553L597.9 551.7L598.4 550.5L605.4 545.9L605.4 634.2L421.6 634.2L421.6 573.6L423.1 569.2L425.8 564.2L428.7 560.5L432.9 556.9L434.2 554.2L434.3 550.5L433.2 545.5L433 541.7L436.6 524.2L436.7 520.5L435.2 511.7L435.4 509.2L436.6 506.4L437.9 505.1L440.4 504.1L446.4 505.4L447.9 505.2L451.6 501.8L457.9 498.5L461.6 494.4L469.1 493.7L476.6 491.2L482.9 487.2L492.4 484.2L501.6 479.9L510.4 479.4L526.6 480.3L529.1 481.2L534.1 485.1L537.9 485.8L542.9 485L546.6 483.8L549.1 481.7L549.9 479.2L547.9 475.9L545.4 474.5L540.4 474.3L522.9 470.6L519.1 470.7L514.1 471.8L507.9 470.7L504.1 470.6L494.1 473.3L486.6 470.9L484.1 470.7L481.6 471.2L479.1 472.5L471.6 480.2L470.4 480.5L462.9 478L452.9 477.2L442.9 473.6L421.6 468.5ZM556.6 480.2L555.3 481.7L556.4 484.2L559.1 485L560.7 484.2L561.1 482.9L560.4 481.5L559.1 480.4ZM494.1 569L487.9 572.3L480.6 579.2L477 584.2L472 594.2L470.6 599.2L471.1 603L472.9 605.6L476.6 608.2L481.6 609.5L487.9 609.7L506.6 606.9L524.1 609.7L531.6 609.9L538.9 609.2L546.6 607.1L554.1 603.4L559.1 599.2L562.2 594.2L562.9 590.5L562.5 586.7L560.3 582.4L557.9 580.7L545.4 580.2L534.1 577L529.1 576.2L514.1 577.2L506.6 571.7L502.9 569.7L497.9 568.5Z"/>
<path fill="#dfd401" fill-rule="evenodd" d="M421.6 401.7L605.4 401.7L605.4 505.5L597.1 499.2L591.6 496.1L577.9 493.2L576.6 493.8L576.1 506.7L574.3 520.5L574.9 526.7L577.6 538L577.3 541.7L575.4 544.7L568.3 550.5L564 555.5L561.9 559.2L557.3 570.5L554.1 572.8L550.4 573.4L530.4 572L517.9 573.1L512.9 571.6L501.6 565.2L496.6 564.4L492.9 565L487.9 567.7L475.3 578L472.2 581.7L469.1 587.4L456.4 598L454.2 600.5L453.2 603L453.3 604.2L455 606.7L459.7 610.5L466.6 613.8L474.1 615.6L485.4 615.6L501.6 612.4L506.6 612L527.9 615.7L536.6 616L545.4 615.2L551.6 613.6L557.8 610.8L562.9 607.1L566.3 603L568.1 599.2L568.8 595.5L568.1 590.5L565.4 584.3L566.6 581.2L567.9 580.6L570.3 580.9L581.6 585.4L589.1 585.6L594.1 584.4L597.9 582.6L601.6 580L605.4 576L605.4 634.2L421.6 634.2L421.6 626L440.9 608L443.1 605.5L444.1 603L443 599.2L433.5 584.2L432.1 580.5L431.5 576.7L431.7 573L432.8 569.2L439.4 558L441.1 551.7L440.7 540.5L441 526.7L439.2 513L439.4 510.5L440.8 508L447.9 506.7L457.9 500.9L462.9 495.4L465.4 494.7L469.1 494.5L476.6 492.3L484.1 487.9L492.9 486L501.6 482.2L526.6 481.8L529.1 482.8L532.9 485.9L536.6 487L544.1 485.9L551.6 482.5L552.9 482.8L556.6 486.5L559.1 487.4L568.5 486.7L570.5 485.5L569.3 482.9L566.5 480.4L559.1 476.7L556.6 476.4L552.9 476.8L547.9 472.2L545.4 471.6L539.1 471.7L520.4 465.7L514.1 465.3L506.6 464L494.1 466.3L485.4 464.3L482.9 464.2L480.4 465L477.9 466.6L470.4 473.7L467.9 474.1L460.3 471.7L449.1 466.3L432.9 463.3L421.6 460.5Z"/>
<path fill="#e1c103" fill-rule="evenodd" d="M421.6 401.7L605.4 401.7L605.4 500.9L594.1 494.8L582.7 490.4L580.4 488.1L570.4 475.2L568.4 474.2L555.5 470.4L549.1 465.3L546.6 464.2L544.1 464.6L540.4 466.6L536.6 466.5L517.6 458L514.1 456.7L511.6 456.4L495.4 458.2L484.1 456.6L480.4 456.6L476.7 457.9L467.9 463.4L462.9 464L434.1 457.1L421.6 453.4ZM501.1 484.2L514.1 483.7L520.4 484.2L526.6 483.4L527.9 483.8L532.9 487.5L536.6 488.2L544.1 487L551.6 484.5L557.9 489.1L565.3 490.9L567.9 492.1L569.7 494.2L570.8 497.9L570.9 502.9L569.7 515.5L569.8 523L570.9 529.2L574 538L574 541.7L572.9 543L562.9 549.7L559.5 553L551.6 562.5L546.6 565.4L520.4 568.1L516.6 568L512.9 566.8L506.6 562.4L501.6 559.8L496.6 558.7L492.9 559L487.9 561.3L482.4 566.7L479.1 569.2L459.1 580.3L455.4 581.8L451.6 582.5L447.9 582.1L445.4 581.1L441.7 578L440.4 574.2L441.4 569.2L446.8 558L448 551.7L447.7 535.5L443.3 516.7L443.1 514.2L443.7 511.7L450.4 506.5L458.5 502.9L462.9 497.6L465.4 495.8L469.1 495.4L477.9 493L484.1 489.2L492.9 487.9ZM597.9 593.9L605.4 589.7L605.4 634.2L437.5 634.2L445.4 629.8L454.1 626.6L481.6 622.5L502.9 617.7L510.4 617.8L525.4 621L535.4 622.3L545.4 622.3L554.1 620.8L561.6 618.1L568.1 614.2L572.5 610.5L579.1 603.2L582.9 600L586.6 598.1Z"/>
<path fill="#e2ac05" fill-rule="evenodd" d="M421.6 401.7L605.4 401.7L605.4 497L584.4 487.9L571.6 471.3L560.4 466.1L551.6 458.9L546.6 456.3L544.1 456L536.6 457.1L532.9 457L519 452.9L512.9 452L496.6 452.5L484.1 451.9L476.6 452.8L465.4 456.6L457.9 457L451.6 456.1L441.6 453.4L421.6 446.5ZM501.6 486.8L520.4 486.9L526.6 486.3L531.6 488.9L535.4 489.7L544.1 488.2L549.1 486.7L551.6 486.6L556.6 490.7L564.2 494.2L565.9 496.7L566.3 499.2L565 509.2L564.5 518L564.6 528L565.7 536.7L565.1 539.2L562.6 541.7L546.6 554.2L542.9 556.3L540.4 557L522.9 559.5L519.1 559.6L516.6 558.7L511.1 555.5L501.6 551.5L494.1 549.8L487.9 549.5L484.1 550.1L480.9 551.7L478.8 554.2L476.4 559.2L474.1 561.4L467.8 562.7L463.6 561.7L462.4 559.2L462.8 556.7L464 554.2L468.2 549.2L469.6 546.7L470.1 544.2L469.6 540.5L467.9 536.7L465.7 534.2L462.9 532.4L455.3 529.1L451.6 525.4L449.1 521.5L447.7 518L447.2 514.2L448.1 511.7L450 509.2L451.6 508.1L457.9 506.5L460.4 505L464.1 499L466.6 497L479.1 493.8L484.1 491L494.1 489.7ZM590.4 611.5L605.4 603.1L605.4 634.2L467.7 634.2L495.4 625L504.1 623.1L511.6 623.5L527.9 627.5L537.9 629L547.9 629.3L557.9 628L565.4 625.8L572.9 622.5Z"/>
<path fill="#e29507" fill-rule="evenodd" d="M421.6 401.7L605.4 401.7L605.4 493.1L596.6 490.5L587.3 485.4L579.1 476.8L574.1 469L563.2 461.7L554.1 454.4L549.1 452L517.9 448.1L506.6 447.5L484.1 447.7L476.6 448.6L464.1 451.3L455.4 451.4L449.1 450.2L441.6 447.9L421.6 439.6ZM535.4 491.5L549.1 488.7L551.6 489.5L560.3 496.7L561.4 500.4L558.7 520.5L557.1 526.7L554.1 532.6L552 535.5L549.1 537.8L546.6 538.9L542.9 539.4L531.6 538L526.6 539.1L517.9 542.5L512.9 542.7L502.9 538.8L489.1 536.6L482.9 534.6L479.1 532.5L467.9 524.3L456.6 519.1L454.2 516.7L453.6 515.5L453.4 514.2L454.1 512.7L456.6 511.7L461.6 510.9L464.1 509.3L465.3 506.8L465.4 503L466.6 499.8L469.2 497.9L472.9 496.5L479.1 495.4L485.4 492.9L494.1 492.3L501.6 490.6L514.1 490.9L526.6 490.3ZM584.1 628.5L605.4 617.2L605.4 634.2L569.3 634.2ZM503.4 629.2L506.6 628.9L510.4 629.3L528.1 634.2L489.6 634.2L497.9 630.8Z"/>
<path fill="#e27d08" fill-rule="evenodd" d="M421.6 401.7L605.4 401.7L605.4 488.5L597.9 486.3L594.9 484.2L589.1 478.5L582.9 474.6L576.8 465.4L560.4 452.3L554.1 448.8L544.1 445.4L537.9 444.4L496.6 443.2L482.9 443.5L465.4 446.3L459.1 446.5L449.1 444.8L435.1 439.2L421.6 432.3ZM542 491.7L547.9 491.5L550.4 492.6L554.4 497.9L555.4 501.7L554.2 510.4L550.4 523L547.9 526.9L544.1 528.5L540.4 528.4L530.4 526.4L521.6 525.9L515.4 524.9L505.4 525L491.6 524L486.3 523L481.6 520.3L475.4 513.9L471.6 508.5L469.5 503L470.2 500.4L474.2 497.9L486.6 496.2L505.4 495.2L515.4 495.7L534.1 494.3L537.9 493.5ZM599.5 634.2L605.4 631.3L605.4 634.2Z"/>
<path fill="#e06008" fill-rule="evenodd" d="M421.6 401.7L605.4 401.7L605.4 480.3L602.9 478L599.4 472.9L596.6 469.9L587.9 464.7L576.6 456.8L565.4 448.2L560 445.4L545.4 440.2L536.6 439L512.9 439.1L496.6 438.6L479.1 439.4L466.6 441.4L461.6 441.7L454.1 440.6L446.4 437.9L436.2 432.9L421.6 424.3Z"/>
<path fill="#de4308" fill-rule="evenodd" d="M421.6 401.7L605.4 401.7L605.4 466.1L596.6 459.1L568.1 441.7L565 440.4L556.6 438.5L549.1 435.3L545.4 434.2L534.1 433.6L491.6 433.6L476.6 434.3L462.9 436.6L455.4 435L447.9 431.8L440.7 427.9L421.6 415.5Z"/>
<path fill="#db3007" fill-rule="evenodd" d="M421.6 401.7L605.4 401.7L605.4 454.5L595.4 448L575.4 437L569.1 434.5L559.2 431.7L552.9 428.4L549.1 427.3L542.9 426.9L516.6 428.2L479.1 427.3L464.1 429L457.9 428L446.6 422.8L430 411.7L421.6 405.4Z"/>
<path fill="#d82005" fill-rule="evenodd" d="M431.4 401.7L605.4 401.7L605.4 443.6L594.1 437L581.2 430.4L554.1 419.8L549.1 419L544.1 419L512.9 422.3L482.9 419.3L461.6 418.6L455.4 416.8L449.1 413.8L441.6 409.1Z"/>
<path d="M513 405.7C517 405.5 520.5 405.7 524.7 406.6C528.9 407.6 533.9 409.3 538 411.4C542.1 413.5 545.8 416.1 549.3 419C552.8 421.9 555.9 425.3 558.8 428.5C561.6 431.7 563.5 434.9 566.4 438C569.2 441.1 572.7 444.2 575.9 447.4C579.1 450.6 582.5 453.8 585.4 457C588.2 460.2 590.8 463.2 593 466.4C595.2 469.6 597.4 472.8 598.7 476C600 479.2 600.5 481.6 600.6 485.4C600.8 489.2 600.1 493.9 599.6 498.7C599.1 503.4 598.1 509.5 597.7 513.9C597.3 518.3 596.8 521.5 597 525C597.2 528.5 598.7 531.3 598.7 535.2C598.7 539.1 597.8 544.1 596.8 548.5C595.8 552.9 594.9 557.3 593 561.7C591.1 566.1 588.2 570.9 585.4 575C582.5 579.1 579.1 583.4 575.9 586.4C572.7 589.4 569.5 591.6 566.4 593C563.2 594.4 560.2 595 557 595C553.8 595 550.6 593 547.4 593C544.2 593 540.2 594.5 538 595C535.8 595.5 534.7 594.3 534 596C533.3 597.7 534.5 602.2 534 605.4C533.5 608.5 532.8 611.9 531.3 614.9C529.8 617.9 527.4 621 524.7 623.4C522 625.8 518.4 627.9 515.2 629C512 630.1 509.1 630.5 505.7 630C502.3 629.5 498.3 628.2 494.9 626.3C491.5 624.4 487.9 621.6 485.4 618.7C482.9 615.8 480.8 612.2 479.7 609C478.6 605.8 479.1 602.2 478.7 599.7C478.2 597.2 479.3 594.6 477 594C474.7 593.4 469.9 595.7 465 596C460.1 596.3 451.9 597.3 447.4 596C442.9 594.7 440.7 591.5 438 588.3C435.3 585.1 432.9 581.1 431.3 577C429.7 572.9 429.4 568.4 428.5 563.6C427.6 558.9 426.1 553.2 425.6 548.5C425.1 543.8 425.3 539.1 425.6 535.2C425.9 531.3 426.4 528.9 427.5 525C428.6 521.1 430.7 516.4 432.3 512C433.9 507.6 435.3 503.1 437 498.7C438.7 494.3 441 489.5 442.7 485.4C444.4 481.3 446.4 477.8 447.4 474C448.3 470.2 447.9 466.4 448.4 462.6C448.9 458.8 449.2 455 450.3 451.2C451.4 447.4 452.9 443.4 455 439.8C457.1 436.2 459.4 432.7 462.6 429.4C465.8 426.1 469.9 422.9 474 420C478.1 417.1 482.9 414.4 487.3 412.3C491.7 410.2 496.3 408.7 500.6 407.6C504.9 406.5 509 405.9 513 405.7Z" fill="none" stroke="#3a2000" stroke-opacity=".14" stroke-width="6" filter="url(#blur3)"/>
<rect x="421.6" y="401.7" width="183" height="37.2" fill="url(#topshade)"/>
</g>
<path d="M512.3 378.4V405" stroke="#3232f0" stroke-width="1.2" fill="none"/>
<path d="M512.3 367.6L509.2 378.9L515.4 378.9Z" fill="#3232f0"/>
<path d="M512.3 405V656" stroke="#f01414" stroke-width="1.3" fill="none"/>
<path d="M386 530.1H638.1" stroke="#3232f0" stroke-width="1.4" fill="none"/>
<path d="M638.1 530.1H666" stroke="#f01414" stroke-width="1.5" fill="none"/>
<ellipse cx="648.6" cy="530.1" rx="2.6" ry="3.3" fill="#6a6a6a"/>
<text class="ax" x="657.6" y="528.8" fill="#222">Phi</text>
<path d="M675 530.1L664.4 527.1L664.4 533.1Z" fill="#f01414"/>
<text class="ax" x="683" y="529.9" fill="#222" style="font-size:4.8px">x</text>
<text class="ax" x="512.9" y="361.1" fill="#222">z</text>
<path d="M513.2 391.4L537.7 393.7" stroke="#747474" stroke-width="1.3" fill="none"/>
<path d="M547.7 395.6L536.3 390.7L536.1 396.5Z" fill="#747474"/>
<text class="th" x="552" y="384.7">Theta</text>
<path d="M650.8 669.6V655.2" stroke="#2222c8" stroke-width="2.8" fill="none"/>
<path d="M650.8 650.2L647.9 656.5L653.7 656.5Z" fill="#1c1cc0"/>
<path d="M650.3 669.6H665.2" stroke="#cc3434" stroke-width="2.5" fill="none"/>
<path d="M670.2 669.6L664.2 667.1L664.2 672.1Z" fill="#b82c2c"/>
<circle cx="649.2" cy="671.6" r="1.2" fill="#30b030"/>
<circle cx="650.8" cy="669.6" r="1.3" fill="#d02020"/>
<text class="ax2" x="649.1" y="648" fill="#3030f0">z</text>
<text class="ax2" x="673.5" y="671.4" fill="#f02020">x</text>
</g>
<rect x="606" y="357" width="80" height="122" fill="#fff"/>
<text class="lgt" x="645" y="367.7">dBi</text>
<rect x="661.6" y="379" width="13.4" height="89.6" fill="url(#bar)" stroke="#000" stroke-width=".8"/>
<path d="M657.2 379H661.6M657.2 381.2H661.6M657.2 383.5H661.6M657.2 385.7H661.6M657.2 388H661.6M657.2 390.2H661.6M657.2 392.4H661.6M657.2 394.7H661.6M657.2 396.9H661.6M657.2 399.2H661.6M657.2 401.4H661.6M657.2 403.6H661.6M657.2 405.9H661.6M657.2 408.1H661.6M657.2 410.4H661.6M657.2 412.6H661.6M657.2 414.8H661.6M657.2 417.1H661.6M657.2 419.3H661.6M657.2 421.6H661.6M657.2 423.8H661.6M657.2 426H661.6M657.2 428.3H661.6M657.2 430.5H661.6M657.2 432.8H661.6M657.2 435H661.6M657.2 437.2H661.6M657.2 439.5H661.6M657.2 441.7H661.6M657.2 444H661.6M657.2 446.2H661.6M657.2 448.4H661.6M657.2 450.7H661.6M657.2 452.9H661.6M657.2 455.2H661.6M657.2 457.4H661.6M657.2 459.6H661.6M657.2 461.9H661.6M657.2 464.1H661.6M657.2 466.4H661.6M657.2 468.6H661.6" stroke="#000" stroke-width=".7" fill="none"/>
<text class="lg" x="651" y="382.7">7.41</text>
<text class="lg" x="651" y="396.4">1.35</text>
<text class="lg" x="651" y="409.1">-4.71</text>
<text class="lg" x="651" y="423.3">-10.8</text>
<text class="lg" x="651" y="436.5">-16.8</text>
<text class="lg" x="651" y="449.7">-22.9</text>
<text class="lg" x="651" y="470.3">-32.6</text>
<path d="M653.6 380H661.6M653.6 393.7H661.6M653.6 406.4H661.6M653.6 420.6H661.6M653.6 433.8H661.6M653.6 447H661.6M653.6 467.6H661.6" stroke="#000" stroke-width=".9" fill="none"/>
<path d="M661.1 379.8L655.6 377L655.6 382.6Z" fill="#000"/>
<path d="M661.1 435.5L655.6 432.7L655.6 438.3Z" fill="#000"/>
<path d="M657.6 379.8L653.6 377.4L653.6 382.2Z" fill="#000"/>
<rect x="338" y="596" width="139.7" height="106" fill="#fff"/>
<text class="tb" x="340.7" y="608" textLength="75.5" lengthAdjust="spacingAndGlyphs">farfield (f=5.9) [4]</text>
<text class="t" x="342.8" y="620.7" textLength="16.3" lengthAdjust="spacingAndGlyphs">Type</text>
<text class="t" x="404.5" y="620.7" textLength="24.9" lengthAdjust="spacingAndGlyphs">Farfield</text>
<text class="t" x="342.8" y="631.8" textLength="51.5" lengthAdjust="spacingAndGlyphs">Approximation</text>
<text class="t" x="404.5" y="631.8" textLength="63.2" lengthAdjust="spacingAndGlyphs">enabled (kR &gt;&gt; 1)</text>
<text class="t" x="342.8" y="642.9" textLength="41.3" lengthAdjust="spacingAndGlyphs">Component</text>
<text class="t" x="404.5" y="642.9" textLength="12.7" lengthAdjust="spacingAndGlyphs">Abs</text>
<text class="t" x="342.8" y="654" textLength="24.5" lengthAdjust="spacingAndGlyphs">Output</text>
<text class="t" x="404.5" y="654" textLength="15.1" lengthAdjust="spacingAndGlyphs">Gain</text>
<text class="t" x="342.8" y="665.1" textLength="35.6" lengthAdjust="spacingAndGlyphs">Frequency</text>
<text class="t" x="404.5" y="665.1" textLength="27" lengthAdjust="spacingAndGlyphs">5.9 GHz</text>
<text class="t" x="342.8" y="676.2" textLength="33.1" lengthAdjust="spacingAndGlyphs">Rad. Effic.</text>
<text class="t" x="404.5" y="676.2" textLength="37.2" lengthAdjust="spacingAndGlyphs">-0.9684 dB</text>
<text class="t" x="342.8" y="687.3" textLength="30.5" lengthAdjust="spacingAndGlyphs">Tot. Effic.</text>
<text class="t" x="404.5" y="687.3" textLength="33.1" lengthAdjust="spacingAndGlyphs">-1.027 dB</text>
<text class="t" x="342.8" y="698.4" textLength="15.1" lengthAdjust="spacingAndGlyphs">Gain</text>
<text class="t" x="404.5" y="698.4" textLength="32.1" lengthAdjust="spacingAndGlyphs">7.413 dBi</text>
<text class="cap" x="153" y="352">(a)</text>
<text class="cap" x="428" y="352">(b)</text>
<text class="cap" x="199.5" y="723.5">(c)</text>
<text class="cap" x="460.5" y="723.5">(d)</text>
</svg></body></html>
